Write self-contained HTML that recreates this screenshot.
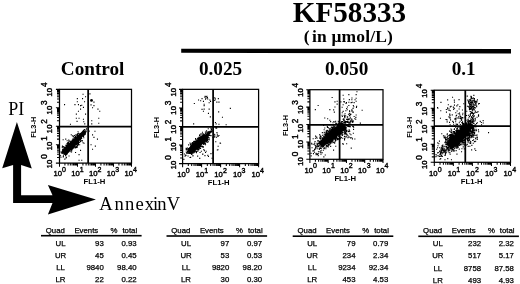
<!DOCTYPE html>
<html><head><meta charset="utf-8"><title>KF58333</title>
<style>html,body{margin:0;padding:0;background:#fff}svg{display:block}</style>
</head><body>
<svg width="520" height="284" viewBox="0 0 520 284"><text transform="translate(349.50 21.80) scale(0.985 1.030)" font-family='"Liberation Serif", serif' font-size="29.6" font-weight="bold" text-anchor="middle" fill="#000" >KF58333</text>
<text transform="translate(303.70 41.50) scale(1.000 1.000)" font-family='"Liberation Serif", serif' font-size="17.5" font-weight="bold" text-anchor="start" fill="#000" letter-spacing="0.15">(<tspan dx="2.4">in μmol/L)</tspan></text>
<path d="M181.2 48.8L511 49.1V53.4L181.2 52.8Z" fill="#000"/>
<text transform="translate(92.60 75.30) scale(1.000 1.000)" font-family='"Liberation Serif", serif' font-size="19.2" font-weight="bold" text-anchor="middle" fill="#000" >Control</text>
<text transform="translate(220.50 75.30) scale(1.000 1.000)" font-family='"Liberation Serif", serif' font-size="19.2" font-weight="bold" text-anchor="middle" fill="#000" >0.025</text>
<text transform="translate(346.70 75.30) scale(1.000 1.000)" font-family='"Liberation Serif", serif' font-size="19.2" font-weight="bold" text-anchor="middle" fill="#000" >0.050</text>
<text transform="translate(463.70 75.30) scale(1.000 1.000)" font-family='"Liberation Serif", serif' font-size="19.2" font-weight="bold" text-anchor="middle" fill="#000" >0.1</text>
<text transform="translate(8.30 114.60) scale(1.000 1.000)" font-family='"Liberation Serif", serif' font-size="18" font-weight="normal" text-anchor="start" fill="#000" >PI</text>
<text x="99.3 114.6 125.1 135.5 144.8 153.0 157.3 166.8" y="209.8" font-family='"Liberation Serif", serif' font-size="18.6" fill="#000">AnnexinV</text>
<path d="M16.9 122 L31.8 168.4 L21.1 165 L21.1 195.3 L52.5 195.3 L47.9 185 L95.9 199.6 L47.9 214.6 L52.5 203 L13.1 203 L13.1 165 L2.2 168.2 Z" fill="#000"/>
<rect x="59.5" y="89.35" width="72.00" height="73.75" fill="none" stroke="#000" stroke-width="1.25"/>
<path d="M88.15 89.35V163.1M59.5 126.7H131.5" stroke="#000" stroke-width="1.75" fill="none"/>
<path d="M59.50 163.1v3.6M59.5 163.10h-3.6M64.92 163.1v2.5M59.5 157.55h-2.5M68.09 163.1v2.5M59.5 154.30h-2.5M70.34 163.1v2.5M59.5 152.00h-2.5M72.08 163.1v2.5M59.5 150.21h-2.5M73.51 163.1v2.5M59.5 148.75h-2.5M74.71 163.1v2.5M59.5 147.52h-2.5M75.76 163.1v2.5M59.5 146.45h-2.5M76.68 163.1v2.5M59.5 145.51h-2.5M77.50 163.1v3.6M59.5 144.66h-3.6M82.92 163.1v2.5M59.5 139.11h-2.5M86.09 163.1v2.5M59.5 135.87h-2.5M88.34 163.1v2.5M59.5 133.56h-2.5M90.08 163.1v2.5M59.5 131.78h-2.5M91.51 163.1v2.5M59.5 130.32h-2.5M92.71 163.1v2.5M59.5 129.08h-2.5M93.76 163.1v2.5M59.5 128.01h-2.5M94.68 163.1v2.5M59.5 127.07h-2.5M95.50 163.1v3.6M59.5 126.22h-3.6M100.92 163.1v2.5M59.5 120.67h-2.5M104.09 163.1v2.5M59.5 117.43h-2.5M106.34 163.1v2.5M59.5 115.12h-2.5M108.08 163.1v2.5M59.5 113.34h-2.5M109.51 163.1v2.5M59.5 111.88h-2.5M110.71 163.1v2.5M59.5 110.64h-2.5M111.76 163.1v2.5M59.5 109.57h-2.5M112.68 163.1v2.5M59.5 108.63h-2.5M113.50 163.1v3.6M59.5 107.79h-3.6M118.92 163.1v2.5M59.5 102.24h-2.5M122.09 163.1v2.5M59.5 98.99h-2.5M124.34 163.1v2.5M59.5 96.69h-2.5M126.08 163.1v2.5M59.5 94.90h-2.5M127.51 163.1v2.5M59.5 93.44h-2.5M128.71 163.1v2.5M59.5 92.21h-2.5M129.76 163.1v2.5M59.5 91.14h-2.5M130.68 163.1v2.5M59.5 90.19h-2.5M131.5 163.1v3.6M59.5 89.35h-3.6" stroke="#000" stroke-width="1.05" fill="none"/>
<text transform="translate(53.40 175.90) scale(0.960 1.000)" font-family='"Liberation Sans", sans-serif' font-size="8.0" font-weight="normal" text-anchor="start" fill="#000" stroke="#000" stroke-width="0.42">10</text>
<text transform="translate(62.00 171.50) scale(0.950 1.000)" font-family='"Liberation Sans", sans-serif' font-size="7.4" font-weight="normal" text-anchor="start" fill="#000" stroke="#000" stroke-width="0.42">0</text>
<text transform="translate(52.00 168.21) rotate(-90)" font-family='"Liberation Sans", sans-serif' font-size="7.7" fill="#000" stroke="#000" stroke-width="0.42">10</text>
<text transform="translate(47.00 158.81) rotate(-90)" font-family='"Liberation Sans", sans-serif' font-size="8.2" fill="#000" stroke="#000" stroke-width="0.42">0</text>
<text transform="translate(71.15 175.90) scale(0.960 1.000)" font-family='"Liberation Sans", sans-serif' font-size="8.0" font-weight="normal" text-anchor="start" fill="#000" stroke="#000" stroke-width="0.42">10</text>
<text transform="translate(79.75 171.50) scale(0.950 1.000)" font-family='"Liberation Sans", sans-serif' font-size="7.4" font-weight="normal" text-anchor="start" fill="#000" stroke="#000" stroke-width="0.42">1</text>
<text transform="translate(52.00 150.27) rotate(-90)" font-family='"Liberation Sans", sans-serif' font-size="7.7" fill="#000" stroke="#000" stroke-width="0.42">10</text>
<text transform="translate(47.00 140.87) rotate(-90)" font-family='"Liberation Sans", sans-serif' font-size="8.2" fill="#000" stroke="#000" stroke-width="0.42">1</text>
<text transform="translate(88.90 175.90) scale(0.960 1.000)" font-family='"Liberation Sans", sans-serif' font-size="8.0" font-weight="normal" text-anchor="start" fill="#000" stroke="#000" stroke-width="0.42">10</text>
<text transform="translate(97.50 171.50) scale(0.950 1.000)" font-family='"Liberation Sans", sans-serif' font-size="7.4" font-weight="normal" text-anchor="start" fill="#000" stroke="#000" stroke-width="0.42">2</text>
<text transform="translate(52.00 133.13) rotate(-90)" font-family='"Liberation Sans", sans-serif' font-size="7.7" fill="#000" stroke="#000" stroke-width="0.42">10</text>
<text transform="translate(47.00 123.73) rotate(-90)" font-family='"Liberation Sans", sans-serif' font-size="8.2" fill="#000" stroke="#000" stroke-width="0.42">2</text>
<text transform="translate(106.64 175.90) scale(0.960 1.000)" font-family='"Liberation Sans", sans-serif' font-size="8.0" font-weight="normal" text-anchor="start" fill="#000" stroke="#000" stroke-width="0.42">10</text>
<text transform="translate(115.24 171.50) scale(0.950 1.000)" font-family='"Liberation Sans", sans-serif' font-size="7.4" font-weight="normal" text-anchor="start" fill="#000" stroke="#000" stroke-width="0.42">3</text>
<text transform="translate(52.00 114.39) rotate(-90)" font-family='"Liberation Sans", sans-serif' font-size="7.7" fill="#000" stroke="#000" stroke-width="0.42">10</text>
<text transform="translate(47.00 104.99) rotate(-90)" font-family='"Liberation Sans", sans-serif' font-size="8.2" fill="#000" stroke="#000" stroke-width="0.42">3</text>
<text transform="translate(124.39 175.90) scale(0.960 1.000)" font-family='"Liberation Sans", sans-serif' font-size="8.0" font-weight="normal" text-anchor="start" fill="#000" stroke="#000" stroke-width="0.42">10</text>
<text transform="translate(132.99 171.50) scale(0.950 1.000)" font-family='"Liberation Sans", sans-serif' font-size="7.4" font-weight="normal" text-anchor="start" fill="#000" stroke="#000" stroke-width="0.42">4</text>
<text transform="translate(52.00 96.45) rotate(-90)" font-family='"Liberation Sans", sans-serif' font-size="7.7" fill="#000" stroke="#000" stroke-width="0.42">10</text>
<text transform="translate(47.00 87.05) rotate(-90)" font-family='"Liberation Sans", sans-serif' font-size="8.2" fill="#000" stroke="#000" stroke-width="0.42">4</text>
<text transform="translate(83.50 184.00) scale(1.040 1.000)" font-family='"Liberation Sans", sans-serif' font-size="7.4" font-weight="bold" text-anchor="start" fill="#000" >FL1-H</text>
<text transform="translate(36.00 127.22) rotate(-90)" font-family='"Liberation Sans", sans-serif' font-size="7.4" font-weight="bold" text-anchor="middle" fill="#000">FL3-H</text>
<rect x="182.6" y="89.35" width="76.00" height="74.25" fill="none" stroke="#000" stroke-width="1.25"/>
<path d="M213.1 89.35V163.6M182.6 126.8H258.6" stroke="#000" stroke-width="1.75" fill="none"/>
<path d="M182.60 163.6v3.6M182.6 163.60h-3.6M188.32 163.6v2.5M182.6 158.01h-2.5M191.67 163.6v2.5M182.6 154.74h-2.5M194.04 163.6v2.5M182.6 152.42h-2.5M195.88 163.6v2.5M182.6 150.63h-2.5M197.38 163.6v2.5M182.6 149.16h-2.5M198.66 163.6v2.5M182.6 147.91h-2.5M199.76 163.6v2.5M182.6 146.84h-2.5M200.73 163.6v2.5M182.6 145.89h-2.5M201.60 163.6v3.6M182.6 145.04h-3.6M207.32 163.6v2.5M182.6 139.45h-2.5M210.67 163.6v2.5M182.6 136.18h-2.5M213.04 163.6v2.5M182.6 133.86h-2.5M214.88 163.6v2.5M182.6 132.06h-2.5M216.38 163.6v2.5M182.6 130.59h-2.5M217.66 163.6v2.5M182.6 129.35h-2.5M218.76 163.6v2.5M182.6 128.27h-2.5M219.73 163.6v2.5M182.6 127.32h-2.5M220.60 163.6v3.6M182.6 126.47h-3.6M226.32 163.6v2.5M182.6 120.89h-2.5M229.67 163.6v2.5M182.6 117.62h-2.5M232.04 163.6v2.5M182.6 115.30h-2.5M233.88 163.6v2.5M182.6 113.50h-2.5M235.38 163.6v2.5M182.6 112.03h-2.5M236.66 163.6v2.5M182.6 110.79h-2.5M237.76 163.6v2.5M182.6 109.71h-2.5M238.73 163.6v2.5M182.6 108.76h-2.5M239.60 163.6v3.6M182.6 107.91h-3.6M245.32 163.6v2.5M182.6 102.32h-2.5M248.67 163.6v2.5M182.6 99.06h-2.5M251.04 163.6v2.5M182.6 96.74h-2.5M252.88 163.6v2.5M182.6 94.94h-2.5M254.38 163.6v2.5M182.6 93.47h-2.5M255.66 163.6v2.5M182.6 92.23h-2.5M256.76 163.6v2.5M182.6 91.15h-2.5M257.73 163.6v2.5M182.6 90.20h-2.5M258.6 163.6v3.6M182.6 89.35h-3.6" stroke="#000" stroke-width="1.05" fill="none"/>
<text transform="translate(177.20 177.40) scale(0.960 1.000)" font-family='"Liberation Sans", sans-serif' font-size="8.0" font-weight="normal" text-anchor="start" fill="#000" stroke="#000" stroke-width="0.42">10</text>
<text transform="translate(185.80 173.00) scale(0.950 1.000)" font-family='"Liberation Sans", sans-serif' font-size="7.4" font-weight="normal" text-anchor="start" fill="#000" stroke="#000" stroke-width="0.42">0</text>
<text transform="translate(175.50 169.21) rotate(-90)" font-family='"Liberation Sans", sans-serif' font-size="7.7" fill="#000" stroke="#000" stroke-width="0.42">10</text>
<text transform="translate(170.50 159.81) rotate(-90)" font-family='"Liberation Sans", sans-serif' font-size="8.2" fill="#000" stroke="#000" stroke-width="0.42">0</text>
<text transform="translate(195.76 177.40) scale(0.960 1.000)" font-family='"Liberation Sans", sans-serif' font-size="8.0" font-weight="normal" text-anchor="start" fill="#000" stroke="#000" stroke-width="0.42">10</text>
<text transform="translate(204.36 173.00) scale(0.950 1.000)" font-family='"Liberation Sans", sans-serif' font-size="7.4" font-weight="normal" text-anchor="start" fill="#000" stroke="#000" stroke-width="0.42">1</text>
<text transform="translate(175.50 151.02) rotate(-90)" font-family='"Liberation Sans", sans-serif' font-size="7.7" fill="#000" stroke="#000" stroke-width="0.42">10</text>
<text transform="translate(170.50 141.62) rotate(-90)" font-family='"Liberation Sans", sans-serif' font-size="8.2" fill="#000" stroke="#000" stroke-width="0.42">1</text>
<text transform="translate(214.33 177.40) scale(0.960 1.000)" font-family='"Liberation Sans", sans-serif' font-size="8.0" font-weight="normal" text-anchor="start" fill="#000" stroke="#000" stroke-width="0.42">10</text>
<text transform="translate(222.93 173.00) scale(0.950 1.000)" font-family='"Liberation Sans", sans-serif' font-size="7.4" font-weight="normal" text-anchor="start" fill="#000" stroke="#000" stroke-width="0.42">2</text>
<text transform="translate(175.50 133.63) rotate(-90)" font-family='"Liberation Sans", sans-serif' font-size="7.7" fill="#000" stroke="#000" stroke-width="0.42">10</text>
<text transform="translate(170.50 124.23) rotate(-90)" font-family='"Liberation Sans", sans-serif' font-size="8.2" fill="#000" stroke="#000" stroke-width="0.42">2</text>
<text transform="translate(232.89 177.40) scale(0.960 1.000)" font-family='"Liberation Sans", sans-serif' font-size="8.0" font-weight="normal" text-anchor="start" fill="#000" stroke="#000" stroke-width="0.42">10</text>
<text transform="translate(241.49 173.00) scale(0.950 1.000)" font-family='"Liberation Sans", sans-serif' font-size="7.4" font-weight="normal" text-anchor="start" fill="#000" stroke="#000" stroke-width="0.42">3</text>
<text transform="translate(175.50 114.64) rotate(-90)" font-family='"Liberation Sans", sans-serif' font-size="7.7" fill="#000" stroke="#000" stroke-width="0.42">10</text>
<text transform="translate(170.50 105.24) rotate(-90)" font-family='"Liberation Sans", sans-serif' font-size="8.2" fill="#000" stroke="#000" stroke-width="0.42">3</text>
<text transform="translate(251.45 177.40) scale(0.960 1.000)" font-family='"Liberation Sans", sans-serif' font-size="8.0" font-weight="normal" text-anchor="start" fill="#000" stroke="#000" stroke-width="0.42">10</text>
<text transform="translate(260.05 173.00) scale(0.950 1.000)" font-family='"Liberation Sans", sans-serif' font-size="7.4" font-weight="normal" text-anchor="start" fill="#000" stroke="#000" stroke-width="0.42">4</text>
<text transform="translate(175.50 96.45) rotate(-90)" font-family='"Liberation Sans", sans-serif' font-size="7.7" fill="#000" stroke="#000" stroke-width="0.42">10</text>
<text transform="translate(170.50 87.05) rotate(-90)" font-family='"Liberation Sans", sans-serif' font-size="8.2" fill="#000" stroke="#000" stroke-width="0.42">4</text>
<text transform="translate(207.80 185.40) scale(1.040 1.000)" font-family='"Liberation Sans", sans-serif' font-size="7.4" font-weight="bold" text-anchor="start" fill="#000" >FL1-H</text>
<text transform="translate(159.10 127.47) rotate(-90)" font-family='"Liberation Sans", sans-serif' font-size="7.4" font-weight="bold" text-anchor="middle" fill="#000">FL3-H</text>
<rect x="309.9" y="89.7" width="73.10" height="69.60" fill="none" stroke="#000" stroke-width="1.25"/>
<path d="M339.6 89.7V159.3M309.9 124.75H383.0" stroke="#000" stroke-width="1.75" fill="none"/>
<path d="M309.90 159.3v3.6M309.9 159.30h-3.6M315.40 159.3v2.5M309.9 154.06h-2.5M318.62 159.3v2.5M309.9 151.00h-2.5M320.90 159.3v2.5M309.9 148.82h-2.5M322.67 159.3v2.5M309.9 147.14h-2.5M324.12 159.3v2.5M309.9 145.76h-2.5M325.34 159.3v2.5M309.9 144.60h-2.5M326.40 159.3v2.5M309.9 143.59h-2.5M327.34 159.3v2.5M309.9 142.70h-2.5M328.17 159.3v3.6M309.9 141.90h-3.6M333.68 159.3v2.5M309.9 136.66h-2.5M336.89 159.3v2.5M309.9 133.60h-2.5M339.18 159.3v2.5M309.9 131.42h-2.5M340.95 159.3v2.5M309.9 129.74h-2.5M342.40 159.3v2.5M309.9 128.36h-2.5M343.62 159.3v2.5M309.9 127.20h-2.5M344.68 159.3v2.5M309.9 126.19h-2.5M345.61 159.3v2.5M309.9 125.30h-2.5M346.45 159.3v3.6M309.9 124.50h-3.6M351.95 159.3v2.5M309.9 119.26h-2.5M355.17 159.3v2.5M309.9 116.20h-2.5M357.45 159.3v2.5M309.9 114.02h-2.5M359.22 159.3v2.5M309.9 112.34h-2.5M360.67 159.3v2.5M309.9 110.96h-2.5M361.89 159.3v2.5M309.9 109.80h-2.5M362.95 159.3v2.5M309.9 108.79h-2.5M363.89 159.3v2.5M309.9 107.90h-2.5M364.73 159.3v3.6M309.9 107.10h-3.6M370.23 159.3v2.5M309.9 101.86h-2.5M373.44 159.3v2.5M309.9 98.80h-2.5M375.73 159.3v2.5M309.9 96.62h-2.5M377.50 159.3v2.5M309.9 94.94h-2.5M378.95 159.3v2.5M309.9 93.56h-2.5M380.17 159.3v2.5M309.9 92.40h-2.5M381.23 159.3v2.5M309.9 91.39h-2.5M382.16 159.3v2.5M309.9 90.50h-2.5M383.0 159.3v3.6M309.9 89.7h-3.6" stroke="#000" stroke-width="1.05" fill="none"/>
<text transform="translate(304.50 172.50) scale(0.960 1.000)" font-family='"Liberation Sans", sans-serif' font-size="8.0" font-weight="normal" text-anchor="start" fill="#000" stroke="#000" stroke-width="0.42">10</text>
<text transform="translate(313.10 168.10) scale(0.950 1.000)" font-family='"Liberation Sans", sans-serif' font-size="7.4" font-weight="normal" text-anchor="start" fill="#000" stroke="#000" stroke-width="0.42">0</text>
<text transform="translate(303.00 165.70) rotate(-90)" font-family='"Liberation Sans", sans-serif' font-size="7.7" fill="#000" stroke="#000" stroke-width="0.42">10</text>
<text transform="translate(298.00 156.30) rotate(-90)" font-family='"Liberation Sans", sans-serif' font-size="8.2" fill="#000" stroke="#000" stroke-width="0.42">0</text>
<text transform="translate(322.35 172.50) scale(0.960 1.000)" font-family='"Liberation Sans", sans-serif' font-size="8.0" font-weight="normal" text-anchor="start" fill="#000" stroke="#000" stroke-width="0.42">10</text>
<text transform="translate(330.95 168.10) scale(0.950 1.000)" font-family='"Liberation Sans", sans-serif' font-size="7.4" font-weight="normal" text-anchor="start" fill="#000" stroke="#000" stroke-width="0.42">1</text>
<text transform="translate(303.00 148.48) rotate(-90)" font-family='"Liberation Sans", sans-serif' font-size="7.7" fill="#000" stroke="#000" stroke-width="0.42">10</text>
<text transform="translate(298.00 139.08) rotate(-90)" font-family='"Liberation Sans", sans-serif' font-size="8.2" fill="#000" stroke="#000" stroke-width="0.42">1</text>
<text transform="translate(340.21 172.50) scale(0.960 1.000)" font-family='"Liberation Sans", sans-serif' font-size="8.0" font-weight="normal" text-anchor="start" fill="#000" stroke="#000" stroke-width="0.42">10</text>
<text transform="translate(348.81 168.10) scale(0.950 1.000)" font-family='"Liberation Sans", sans-serif' font-size="7.4" font-weight="normal" text-anchor="start" fill="#000" stroke="#000" stroke-width="0.42">2</text>
<text transform="translate(303.00 132.55) rotate(-90)" font-family='"Liberation Sans", sans-serif' font-size="7.7" fill="#000" stroke="#000" stroke-width="0.42">10</text>
<text transform="translate(298.00 123.15) rotate(-90)" font-family='"Liberation Sans", sans-serif' font-size="8.2" fill="#000" stroke="#000" stroke-width="0.42">2</text>
<text transform="translate(358.06 172.50) scale(0.960 1.000)" font-family='"Liberation Sans", sans-serif' font-size="8.0" font-weight="normal" text-anchor="start" fill="#000" stroke="#000" stroke-width="0.42">10</text>
<text transform="translate(366.66 168.10) scale(0.950 1.000)" font-family='"Liberation Sans", sans-serif' font-size="7.4" font-weight="normal" text-anchor="start" fill="#000" stroke="#000" stroke-width="0.42">3</text>
<text transform="translate(303.00 114.03) rotate(-90)" font-family='"Liberation Sans", sans-serif' font-size="7.7" fill="#000" stroke="#000" stroke-width="0.42">10</text>
<text transform="translate(298.00 104.63) rotate(-90)" font-family='"Liberation Sans", sans-serif' font-size="8.2" fill="#000" stroke="#000" stroke-width="0.42">3</text>
<text transform="translate(375.92 172.50) scale(0.960 1.000)" font-family='"Liberation Sans", sans-serif' font-size="8.0" font-weight="normal" text-anchor="start" fill="#000" stroke="#000" stroke-width="0.42">10</text>
<text transform="translate(384.52 168.10) scale(0.950 1.000)" font-family='"Liberation Sans", sans-serif' font-size="7.4" font-weight="normal" text-anchor="start" fill="#000" stroke="#000" stroke-width="0.42">4</text>
<text transform="translate(303.00 96.80) rotate(-90)" font-family='"Liberation Sans", sans-serif' font-size="7.7" fill="#000" stroke="#000" stroke-width="0.42">10</text>
<text transform="translate(298.00 87.40) rotate(-90)" font-family='"Liberation Sans", sans-serif' font-size="8.2" fill="#000" stroke="#000" stroke-width="0.42">4</text>
<text transform="translate(334.40 181.10) scale(1.040 1.000)" font-family='"Liberation Sans", sans-serif' font-size="7.4" font-weight="bold" text-anchor="start" fill="#000" >FL1-H</text>
<text transform="translate(288.40 125.50) rotate(-90)" font-family='"Liberation Sans", sans-serif' font-size="7.4" font-weight="bold" text-anchor="middle" fill="#000">FL3-H</text>
<rect x="434.3" y="90.2" width="76.20" height="72.10" fill="none" stroke="#000" stroke-width="1.25"/>
<path d="M465.3 90.2V162.3M434.3 126.0H510.5" stroke="#000" stroke-width="1.75" fill="none"/>
<path d="M434.30 162.3v3.6M434.3 162.30h-3.6M440.03 162.3v2.5M434.3 156.87h-2.5M443.39 162.3v2.5M434.3 153.70h-2.5M445.77 162.3v2.5M434.3 151.45h-2.5M447.62 162.3v2.5M434.3 149.70h-2.5M449.12 162.3v2.5M434.3 148.27h-2.5M450.40 162.3v2.5M434.3 147.07h-2.5M451.50 162.3v2.5M434.3 146.02h-2.5M452.48 162.3v2.5M434.3 145.10h-2.5M453.35 162.3v3.6M434.3 144.28h-3.6M459.08 162.3v2.5M434.3 138.85h-2.5M462.44 162.3v2.5M434.3 135.67h-2.5M464.82 162.3v2.5M434.3 133.42h-2.5M466.67 162.3v2.5M434.3 131.68h-2.5M468.17 162.3v2.5M434.3 130.25h-2.5M469.45 162.3v2.5M434.3 129.04h-2.5M470.55 162.3v2.5M434.3 128.00h-2.5M471.53 162.3v2.5M434.3 127.07h-2.5M472.40 162.3v3.6M434.3 126.25h-3.6M478.13 162.3v2.5M434.3 120.82h-2.5M481.49 162.3v2.5M434.3 117.65h-2.5M483.87 162.3v2.5M434.3 115.40h-2.5M485.72 162.3v2.5M434.3 113.65h-2.5M487.22 162.3v2.5M434.3 112.22h-2.5M488.50 162.3v2.5M434.3 111.02h-2.5M489.60 162.3v2.5M434.3 109.97h-2.5M490.58 162.3v2.5M434.3 109.05h-2.5M491.45 162.3v3.6M434.3 108.23h-3.6M497.18 162.3v2.5M434.3 102.80h-2.5M500.54 162.3v2.5M434.3 99.62h-2.5M502.92 162.3v2.5M434.3 97.37h-2.5M504.77 162.3v2.5M434.3 95.63h-2.5M506.27 162.3v2.5M434.3 94.20h-2.5M507.55 162.3v2.5M434.3 92.99h-2.5M508.65 162.3v2.5M434.3 91.95h-2.5M509.63 162.3v2.5M434.3 91.02h-2.5M510.5 162.3v3.6M434.3 90.2h-3.6" stroke="#000" stroke-width="1.05" fill="none"/>
<text transform="translate(429.10 175.90) scale(0.960 1.000)" font-family='"Liberation Sans", sans-serif' font-size="8.0" font-weight="normal" text-anchor="start" fill="#000" stroke="#000" stroke-width="0.42">10</text>
<text transform="translate(437.70 171.50) scale(0.950 1.000)" font-family='"Liberation Sans", sans-serif' font-size="7.4" font-weight="normal" text-anchor="start" fill="#000" stroke="#000" stroke-width="0.42">0</text>
<text transform="translate(427.20 169.08) rotate(-90)" font-family='"Liberation Sans", sans-serif' font-size="7.7" fill="#000" stroke="#000" stroke-width="0.42">10</text>
<text transform="translate(422.20 159.68) rotate(-90)" font-family='"Liberation Sans", sans-serif' font-size="8.2" fill="#000" stroke="#000" stroke-width="0.42">0</text>
<text transform="translate(447.71 175.90) scale(0.960 1.000)" font-family='"Liberation Sans", sans-serif' font-size="8.0" font-weight="normal" text-anchor="start" fill="#000" stroke="#000" stroke-width="0.42">10</text>
<text transform="translate(456.31 171.50) scale(0.950 1.000)" font-family='"Liberation Sans", sans-serif' font-size="7.4" font-weight="normal" text-anchor="start" fill="#000" stroke="#000" stroke-width="0.42">1</text>
<text transform="translate(427.20 151.23) rotate(-90)" font-family='"Liberation Sans", sans-serif' font-size="7.7" fill="#000" stroke="#000" stroke-width="0.42">10</text>
<text transform="translate(422.20 141.83) rotate(-90)" font-family='"Liberation Sans", sans-serif' font-size="8.2" fill="#000" stroke="#000" stroke-width="0.42">1</text>
<text transform="translate(466.32 175.90) scale(0.960 1.000)" font-family='"Liberation Sans", sans-serif' font-size="8.0" font-weight="normal" text-anchor="start" fill="#000" stroke="#000" stroke-width="0.42">10</text>
<text transform="translate(474.92 171.50) scale(0.950 1.000)" font-family='"Liberation Sans", sans-serif' font-size="7.4" font-weight="normal" text-anchor="start" fill="#000" stroke="#000" stroke-width="0.42">2</text>
<text transform="translate(427.20 133.39) rotate(-90)" font-family='"Liberation Sans", sans-serif' font-size="7.7" fill="#000" stroke="#000" stroke-width="0.42">10</text>
<text transform="translate(422.20 123.99) rotate(-90)" font-family='"Liberation Sans", sans-serif' font-size="8.2" fill="#000" stroke="#000" stroke-width="0.42">2</text>
<text transform="translate(484.94 175.90) scale(0.960 1.000)" font-family='"Liberation Sans", sans-serif' font-size="8.0" font-weight="normal" text-anchor="start" fill="#000" stroke="#000" stroke-width="0.42">10</text>
<text transform="translate(493.54 171.50) scale(0.950 1.000)" font-family='"Liberation Sans", sans-serif' font-size="7.4" font-weight="normal" text-anchor="start" fill="#000" stroke="#000" stroke-width="0.42">3</text>
<text transform="translate(427.20 115.54) rotate(-90)" font-family='"Liberation Sans", sans-serif' font-size="7.7" fill="#000" stroke="#000" stroke-width="0.42">10</text>
<text transform="translate(422.20 106.14) rotate(-90)" font-family='"Liberation Sans", sans-serif' font-size="8.2" fill="#000" stroke="#000" stroke-width="0.42">3</text>
<text transform="translate(503.55 175.90) scale(0.960 1.000)" font-family='"Liberation Sans", sans-serif' font-size="8.0" font-weight="normal" text-anchor="start" fill="#000" stroke="#000" stroke-width="0.42">10</text>
<text transform="translate(512.15 171.50) scale(0.950 1.000)" font-family='"Liberation Sans", sans-serif' font-size="7.4" font-weight="normal" text-anchor="start" fill="#000" stroke="#000" stroke-width="0.42">4</text>
<text transform="translate(427.20 97.70) rotate(-90)" font-family='"Liberation Sans", sans-serif' font-size="7.7" fill="#000" stroke="#000" stroke-width="0.42">10</text>
<text transform="translate(422.20 88.30) rotate(-90)" font-family='"Liberation Sans", sans-serif' font-size="8.2" fill="#000" stroke="#000" stroke-width="0.42">4</text>
<text transform="translate(460.80 184.30) scale(1.040 1.000)" font-family='"Liberation Sans", sans-serif' font-size="7.4" font-weight="bold" text-anchor="start" fill="#000" >FL1-H</text>
<text transform="translate(412.00 127.25) rotate(-90)" font-family='"Liberation Sans", sans-serif' font-size="7.4" font-weight="bold" text-anchor="middle" fill="#000">FL3-H</text>
<path d="M65.7 154.3 L85.1 132.5 L83.7 131.1 L62.7 151.3Z" fill="#000" stroke="#000" stroke-width="2.0" stroke-linejoin="round"/>
<path d="M79.2 136.8h1.1M71.7 147.4h1.1M68.6 146.2h1.1M60.4 157.2h1.1M68.2 141.7h1.1M71.1 147.2h1.1M71.5 149.4h1.1M72.8 143.2h1.1M74.8 144.2h1.1M64.4 147.2h1.1M67.1 148.3h1.1M67.1 144.7h1.1M74.9 142.0h1.1M74.7 142.9h1.1M63.8 148.7h1.1M65.3 148.6h1.1M73.8 140.5h1.1M81.8 140.9h1.1M71.2 144.7h1.1M68.6 148.0h1.1M76.8 140.2h1.1M70.5 146.5h1.1M74.3 141.1h1.1M76.3 135.8h1.1M73.2 140.9h1.1M74.1 146.6h1.1M75.0 141.7h1.1M68.1 147.1h1.1M68.7 143.6h1.1M68.9 147.2h1.1M70.6 145.7h1.1M68.4 146.0h1.1M71.9 146.8h1.1M68.9 145.6h1.1M71.6 144.1h1.1M72.9 145.6h1.1M73.1 143.7h1.1M79.2 139.9h1.1M64.3 151.4h1.1M76.5 138.2h1.1M71.1 146.4h1.1M66.4 150.6h1.1M72.4 147.1h1.1M72.4 144.8h1.1M76.1 139.8h1.1M67.4 150.1h1.1M73.3 144.6h1.1M70.4 142.6h1.1M63.9 152.1h1.1M65.8 149.6h1.1M75.8 143.6h1.1M73.8 140.9h1.1M77.7 141.2h1.1M72.0 140.5h1.1M73.1 142.8h1.1M73.5 145.6h1.1M76.4 138.9h1.1M69.4 150.1h1.1M67.9 142.5h1.1M73.2 143.0h1.1M64.8 152.1h1.1M77.0 138.6h1.1M65.8 146.2h1.1M72.1 146.0h1.1M77.5 131.7h1.1M69.2 149.8h1.1M69.6 147.5h1.1M79.7 139.0h1.1M66.4 149.2h1.1M68.0 145.1h1.1M73.0 141.6h1.1M72.8 142.0h1.1M74.9 142.8h1.1M72.6 142.6h1.1M77.9 139.2h1.1M76.6 140.8h1.1M76.1 144.0h1.1M65.6 145.0h1.1M67.8 147.4h1.1M64.1 154.3h1.1M75.5 142.6h1.1M62.7 152.2h1.1M74.9 140.4h1.1M79.4 136.2h1.1M67.0 149.7h1.1M67.7 147.0h1.1M68.5 146.0h1.1M73.5 139.4h1.1M67.1 148.1h1.1M72.9 147.2h1.1M67.8 145.8h1.1M71.8 147.2h1.1M79.9 141.6h1.1M67.6 149.4h1.1M75.2 147.7h1.1M72.5 143.3h1.1M77.6 143.2h1.1M65.9 150.4h1.1M74.6 138.0h1.1M73.9 143.3h1.1M78.0 143.4h1.1M71.0 143.6h1.1M65.0 152.8h1.1M67.2 146.3h1.1M73.8 139.8h1.1M72.3 145.2h1.1M71.0 144.7h1.1M80.2 137.4h1.1M83.0 136.5h1.1M69.7 143.3h1.1M79.0 135.0h1.1M62.9 153.9h1.1M65.9 157.3h1.1M74.8 140.4h1.1M69.7 145.3h1.1M74.7 142.8h1.1M76.8 145.4h1.1M70.3 144.4h1.1M74.1 141.3h1.1M72.3 144.2h1.1M65.9 152.8h1.1M75.6 146.8h1.1M70.6 142.2h1.1M77.2 134.2h1.1M66.8 150.1h1.1M72.4 145.5h1.1M66.5 143.6h1.1M70.1 144.6h1.1M80.2 138.6h1.1M72.5 142.4h1.1M70.2 147.6h1.1M72.5 144.4h1.1M75.9 142.3h1.1M67.8 149.9h1.1M70.8 146.4h1.1M80.1 139.6h1.1M74.5 140.2h1.1M71.6 145.2h1.1M71.1 148.6h1.1M70.1 144.8h1.1M64.3 151.4h1.1M74.6 139.5h1.1M71.7 142.0h1.1M75.1 147.0h1.1M66.6 151.4h1.1M71.2 150.7h1.1M74.9 143.5h1.1M72.8 143.8h1.1M69.0 146.7h1.1M74.2 142.9h1.1M75.6 140.5h1.1M70.0 149.2h1.1M68.0 146.0h1.1M68.0 149.0h1.1M67.2 150.7h1.1M74.8 140.9h1.1M73.5 142.2h1.1M73.9 144.1h1.1M67.3 150.9h1.1M66.9 149.4h1.1M71.3 145.1h1.1M69.0 145.9h1.1M72.9 145.1h1.1M68.4 147.8h1.1M72.2 139.7h1.1M79.0 136.3h1.1M79.2 138.7h1.1M79.0 137.9h1.1M70.6 143.3h1.1M76.7 141.7h1.1M70.8 147.4h1.1M76.5 141.5h1.1M72.1 148.6h1.1M69.0 146.6h1.1M69.6 148.6h1.1M74.3 141.3h1.1M74.2 144.9h1.1M74.0 145.6h1.1M67.3 150.6h1.1M73.2 145.2h1.1M64.1 150.2h1.1M78.9 139.0h1.1M69.3 143.7h1.1M75.5 146.9h1.1M72.7 146.9h1.1M62.4 149.8h1.1M61.7 147.3h1.1M73.3 146.7h1.1M76.8 136.8h1.1M67.4 150.6h1.1M66.5 146.1h1.1M71.4 145.1h1.1M63.2 151.5h1.1M64.9 153.3h1.1M69.2 146.1h1.1M73.4 147.0h1.1M68.7 145.5h1.1M80.0 139.6h1.1M70.7 145.4h1.1M73.8 143.8h1.1M76.2 135.3h1.1M76.4 134.6h1.1M66.0 153.4h1.1M68.1 144.7h1.1M76.1 139.0h1.1M65.0 150.5h1.1M66.1 147.7h1.1M66.1 150.9h1.1M63.5 148.9h1.1M64.8 148.2h1.1M73.6 145.2h1.1M75.9 137.8h1.1M79.2 138.8h1.1M72.5 145.6h1.1M65.0 155.7h1.1M71.9 145.6h1.1M67.3 143.7h1.1M72.1 142.2h1.1M70.3 144.7h1.1M65.4 154.6h1.1M73.8 143.3h1.1M61.7 153.4h1.1M69.1 148.4h1.1M72.3 142.8h1.1M73.8 143.9h1.1M78.5 137.8h1.1M62.7 156.9h1.1M73.4 143.6h1.1M75.9 143.0h1.1M70.0 146.2h1.1M75.3 142.8h1.1M66.4 149.5h1.1M75.3 142.6h1.1M74.1 142.6h1.1M67.0 149.0h1.1M67.9 147.1h1.1M70.2 145.2h1.1M69.3 148.3h1.1M72.7 136.8h1.1M74.0 145.6h1.1M73.8 135.5h1.1M76.3 139.1h1.1M71.2 144.0h1.1M71.7 146.6h1.1M67.6 149.3h1.1M67.9 148.3h1.1M68.1 148.4h1.1M74.3 144.4h1.1M71.0 152.0h1.1M72.3 144.9h1.1M69.3 141.0h1.1M68.7 146.4h1.1M71.2 146.1h1.1M82.5 142.8h1.1M77.4 136.3h1.1M67.5 147.7h1.1M71.4 146.4h1.1M70.3 146.8h1.1M68.3 144.1h1.1M79.5 139.1h1.1M72.6 139.8h1.1M76.6 138.6h1.1M81.1 138.5h1.1M67.6 144.9h1.1M70.1 145.1h1.1M74.0 146.8h1.1M75.6 139.7h1.1M69.5 143.7h1.1M73.4 141.0h1.1M77.8 140.6h1.1M74.3 137.2h1.1M72.5 141.8h1.1M65.9 146.2h1.1M63.0 150.1h1.1M78.2 141.4h1.1M73.3 142.5h1.1M66.7 148.3h1.1M69.9 147.6h1.1M68.5 145.7h1.1M62.4 150.6h1.1M74.2 145.2h1.1M69.3 149.5h1.1M68.9 144.9h1.1M75.7 142.3h1.1M73.1 147.2h1.1M74.5 142.9h1.1M74.0 143.5h1.1M69.8 142.8h1.1M71.5 144.3h1.1M76.9 133.7h1.1M72.3 147.0h1.1M78.3 137.1h1.1M69.4 150.7h1.1M73.5 140.3h1.1M73.5 145.1h1.1M66.0 145.8h1.1M79.2 138.2h1.1M66.9 150.4h1.1M67.1 149.0h1.1M69.6 141.8h1.1M73.6 146.3h1.1M73.6 144.4h1.1M72.0 147.4h1.1M66.5 153.1h1.1M74.7 140.2h1.1M68.1 149.3h1.1M76.3 147.4h1.1M72.7 140.9h1.1M77.2 139.9h1.1M69.7 144.9h1.1M72.6 148.5h1.1M70.7 146.0h1.1M61.8 151.6h1.1M67.3 147.3h1.1M65.0 147.3h1.1M63.1 146.7h1.1M68.2 140.1h1.1M69.0 145.1h1.1M76.8 135.9h1.1M78.2 138.2h1.1M62.0 152.1h1.1M72.3 144.5h1.1M69.6 151.7h1.1M72.2 140.5h1.1M70.4 142.3h1.1M76.9 141.9h1.1M76.2 146.6h1.1M73.5 140.0h1.1M67.7 143.7h1.1M60.0 155.7h1.1M65.7 149.5h1.1M68.7 149.6h1.1M67.8 145.4h1.1M66.6 148.9h1.1M78.1 136.9h1.1M68.4 143.2h1.1M74.8 136.6h1.1M70.6 146.9h1.1M79.5 138.0h1.1M65.0 149.0h1.1M76.3 144.2h1.1M67.0 152.0h1.1M74.1 143.3h1.1M79.3 138.4h1.1M64.8 152.6h1.1M68.7 149.7h1.1M73.8 144.8h1.1M70.7 145.6h1.1M62.5 148.0h1.1M76.3 139.2h1.1M70.5 143.3h1.1M75.4 137.2h1.1M73.7 144.1h1.1M63.8 147.4h1.1M70.5 148.0h1.1M76.6 137.5h1.1M63.6 149.2h1.1M68.1 145.6h1.1M77.5 145.3h1.1M78.0 142.2h1.1M74.6 140.5h1.1M66.5 152.9h1.1M83.2 137.8h1.1M69.4 144.2h1.1M71.1 144.2h1.1M72.8 146.0h1.1M71.0 146.3h1.1M66.7 148.5h1.1M72.4 148.5h1.1M78.0 139.4h1.1M66.6 152.0h1.1M64.3 159.1h1.1M74.5 143.0h1.1M76.8 146.9h1.1M75.1 141.8h1.1M78.8 136.6h1.1M68.5 148.2h1.1M73.5 145.1h1.1M74.6 143.3h1.1M77.4 139.6h1.1M73.7 137.9h1.1M66.1 147.0h1.1M65.0 150.6h1.1M71.3 147.0h1.1M66.5 154.0h1.1M72.8 136.2h1.1M69.5 146.3h1.1M69.2 145.6h1.1M67.4 148.6h1.1M78.4 138.1h1.1M71.4 142.2h1.1M67.7 144.7h1.1M75.6 143.3h1.1M72.2 146.1h1.1M73.4 141.4h1.1M77.0 138.5h1.1M69.2 144.9h1.1M71.6 140.4h1.1M74.5 143.4h1.1M75.4 138.6h1.1M72.4 140.4h1.1M70.7 143.7h1.1M71.0 149.9h1.1M73.4 144.0h1.1M67.2 149.8h1.1M74.4 141.8h1.1M73.0 145.6h1.1M74.9 143.2h1.1M67.2 145.2h1.1M67.6 148.0h1.1M66.5 147.9h1.1M76.6 140.0h1.1M70.4 145.6h1.1M67.5 142.9h1.1M65.3 154.4h1.1M71.5 145.3h1.1M79.1 140.1h1.1M70.5 145.9h1.1M72.2 145.2h1.1M65.2 151.2h1.1M66.8 149.8h1.1M73.3 141.2h1.1M68.0 143.2h1.1M72.4 141.8h1.1M77.2 139.1h1.1M74.3 141.7h1.1M64.0 154.2h1.1M66.9 149.0h1.1M63.1 146.6h1.1M68.5 149.8h1.1M61.1 152.9h1.1M60.4 152.0h1.1M67.6 147.5h1.1M66.7 145.4h1.1M74.1 142.8h1.1M68.6 144.8h1.1M80.4 140.9h1.1M63.0 152.5h1.1M64.4 150.1h1.1M71.5 142.5h1.1M67.0 142.8h1.1M65.7 147.9h1.1M73.6 140.0h1.1M75.6 139.2h1.1M73.8 135.5h1.1M69.7 146.5h1.1M73.2 146.5h1.1M71.7 143.0h1.1M72.5 138.8h1.1M75.0 136.5h1.1M70.3 144.1h1.1M73.8 143.8h1.1M80.4 136.4h1.1M75.0 138.8h1.1M67.7 145.8h1.1M65.5 149.1h1.1M88.6 131.1h1.1M76.3 137.4h1.1M66.7 148.2h1.1M77.2 141.1h1.1M78.3 136.9h1.1M74.7 138.9h1.1M67.8 152.0h1.1M84.7 131.8h1.1M77.5 136.8h1.1M73.9 141.2h1.1M79.9 138.3h1.1M73.8 141.4h1.1M74.0 142.7h1.1M80.9 137.1h1.1M66.8 152.0h1.1M78.1 133.3h1.1M76.8 138.0h1.1M78.8 136.3h1.1M80.1 136.0h1.1M84.1 133.5h1.1M84.1 134.6h1.1M79.3 135.5h1.1M72.2 141.2h1.1M79.2 137.2h1.1M72.4 142.3h1.1M73.0 147.5h1.1M78.3 138.6h1.1M77.4 138.7h1.1M82.7 135.6h1.1M64.2 150.7h1.1M78.2 137.0h1.1M78.7 136.8h1.1M77.0 140.6h1.1M84.6 134.4h1.1M72.3 145.8h1.1M78.3 139.6h1.1M73.6 142.1h1.1M76.1 140.9h1.1M70.6 145.1h1.1M76.4 142.5h1.1M78.3 136.2h1.1M76.2 139.7h1.1M77.7 138.9h1.1M72.9 145.2h1.1M82.7 131.4h1.1M72.0 143.7h1.1M74.8 139.3h1.1M77.0 135.8h1.1M76.1 142.6h1.1M80.0 137.0h1.1M74.8 137.6h1.1M82.9 130.5h1.1M79.1 138.2h1.1M76.9 137.6h1.1M70.4 143.2h1.1M79.5 139.5h1.1M80.1 134.6h1.1M77.3 137.8h1.1M71.8 145.8h1.1M72.1 142.3h1.1M74.6 141.6h1.1M76.0 140.5h1.1M69.8 148.3h1.1M84.0 129.9h1.1M76.5 142.2h1.1M76.6 140.2h1.1M75.7 144.8h1.1M75.7 140.9h1.1M84.4 130.0h1.1M70.3 144.6h1.1M71.7 141.7h1.1M70.5 145.7h1.1M72.8 143.1h1.1M84.2 133.7h1.1M72.6 143.7h1.1M72.3 141.8h1.1M68.0 150.9h1.1M73.3 141.8h1.1M77.0 139.6h1.1M75.0 144.6h1.1M75.2 144.0h1.1M78.6 135.5h1.1M78.0 137.6h1.1M76.7 142.5h1.1M72.9 145.6h1.1M68.8 148.7h1.1M84.9 132.9h1.1M65.3 145.7h1.1M78.4 136.8h1.1M72.8 139.7h1.1M71.2 143.4h1.1M79.4 135.5h1.1M72.5 144.7h1.1M83.2 135.4h1.1M71.5 146.5h1.1M78.3 138.2h1.1M81.4 133.5h1.1M72.4 146.8h1.1M86.1 130.0h1.1M77.5 133.9h1.1M64.6 151.5h1.1M82.9 133.9h1.1M83.7 129.5h1.1M74.5 141.9h1.1M76.4 143.1h1.1M77.0 138.1h1.1M66.2 149.9h1.1M76.2 139.5h1.1M78.9 134.4h1.1M72.2 142.5h1.1M79.7 133.5h1.1M85.9 128.8h1.1M67.6 151.0h1.1M76.8 135.2h1.1M65.2 139.1h1.1M74.9 135.0h1.1M62.1 152.2h1.1M74.6 146.9h1.1M71.8 135.8h1.1M76.6 138.8h1.1M68.7 149.6h1.1M72.4 146.0h1.1M72.2 142.8h1.1M62.6 139.8h1.1M70.2 148.2h1.1M75.6 140.3h1.1M64.6 153.6h1.1M67.1 146.2h1.1M77.3 145.2h1.1M81.2 134.0h1.1M70.7 141.4h1.1M78.8 142.5h1.1M61.9 146.1h1.1M70.2 142.9h1.1M85.6 131.6h1.1M84.8 130.2h1.1M78.3 141.3h1.1M70.9 146.8h1.1M74.5 147.9h1.1M80.6 133.7h1.1M66.5 148.6h1.1M66.0 151.2h1.1M66.6 140.7h1.1M81.6 140.5h1.1M62.1 149.5h1.1M77.1 143.9h1.1M77.9 144.5h1.1M75.2 145.3h1.1M71.2 145.5h1.1M76.8 135.7h1.1M70.7 134.8h1.1M62.9 155.9h1.1M82.5 131.8h1.1M79.1 144.7h1.1M73.3 141.1h1.1M70.7 148.1h1.1M68.7 145.3h1.1M69.2 145.0h1.1M75.4 139.5h1.1M64.0 104.6h1.1M69.9 124.3h1.1M74.4 104.6h1.1M76.8 98.6h1.1M76.8 101.7h1.1M77.9 104.6h1.1M80.0 105.6h1.1M81.2 105.2h1.1M82.5 94.3h1.1M82.0 98.6h1.1M84.0 101.7h1.1M85.0 96.7h1.1M82.9 107.4h1.1M80.0 109.1h1.1M77.9 111.2h1.1M75.8 114.1h1.1M85.0 114.1h1.1M75.8 118.3h1.1M78.5 118.3h1.1M82.9 119.3h1.1M76.5 121.4h1.1M83.2 121.8h1.1M84.2 123.9h1.1M89.4 93.9h1.1M93.4 102.1h1.1M90.5 104.9h1.1M93.4 105.6h1.1M92.0 107.7h1.1M97.4 109.1h1.1M99.2 111.2h1.1M98.2 118.3h1.1M91.2 120.7h1.1M98.2 123.2h1.1M91.2 123.9h1.1M92.0 134.9h1.1M94.4 131.3h1.1M93.4 137.4h1.1M96.9 139.1h1.1M90.5 144.7h1.1M94.8 146.1h1.1M92.0 149.2h1.1M78.5 154.6h1.1M78.5 160.2h1.1M81.2 160.2h1.1M75.0 152.5h1.1M80.0 150.4h1.1M83.5 143.3h1.1M65.5 158.0h1.1M62.5 150.0h1.1M68.5 156.0h1.1" stroke="#000" stroke-width="1.1" fill="none" opacity="1.0"/>
<circle cx="91.5" cy="100.4" r="1.4" fill="#000"/>
<path d="M191.3 153.2 L206.9 138.3 L204.1 135.3 L188.3 150.0Z" fill="#000" stroke="#000" stroke-width="2.4" stroke-linejoin="round"/>
<path d="M205.2 138.7 L211.0 131.8 L210.2 131.2 L203.8 137.3Z" fill="#000" stroke="#000" stroke-width="1.2" stroke-linejoin="round"/>
<path d="M189.5 153.5h1.1M189.4 143.0h1.1M199.1 148.3h1.1M200.2 136.8h1.1M198.1 143.4h1.1M190.8 149.0h1.1M204.4 138.5h1.1M197.2 141.8h1.1M202.6 140.8h1.1M190.4 145.7h1.1M183.3 159.4h1.1M193.0 147.2h1.1M192.8 149.4h1.1M199.5 145.1h1.1M188.1 149.0h1.1M191.9 147.2h1.1M189.6 149.0h1.1M197.3 143.8h1.1M192.9 148.6h1.1M204.1 140.0h1.1M200.7 141.6h1.1M200.4 140.7h1.1M196.7 146.2h1.1M199.5 145.2h1.1M202.2 142.4h1.1M196.3 151.4h1.1M201.5 138.2h1.1M196.9 145.1h1.1M200.5 137.0h1.1M205.9 134.0h1.1M204.8 138.9h1.1M194.0 151.0h1.1M201.6 138.6h1.1M196.2 146.5h1.1M195.2 146.3h1.1M196.6 146.2h1.1M192.0 149.7h1.1M197.3 142.6h1.1M190.3 143.7h1.1M199.6 137.4h1.1M198.9 143.7h1.1M185.2 155.1h1.1M195.8 151.8h1.1M192.5 148.7h1.1M195.2 148.8h1.1M192.2 145.3h1.1M195.7 141.3h1.1M196.5 145.4h1.1M194.6 151.7h1.1M199.5 143.3h1.1M200.5 140.2h1.1M197.6 145.1h1.1M203.1 140.6h1.1M199.5 143.4h1.1M194.4 146.8h1.1M193.5 144.4h1.1M195.2 142.6h1.1M198.5 141.4h1.1M197.5 143.5h1.1M199.3 138.3h1.1M204.4 142.3h1.1M193.3 149.6h1.1M191.0 148.4h1.1M197.6 146.1h1.1M202.6 146.5h1.1M201.3 141.1h1.1M200.1 142.1h1.1M201.2 143.6h1.1M190.7 146.1h1.1M197.7 142.0h1.1M192.9 145.9h1.1M199.9 144.0h1.1M198.4 138.0h1.1M194.4 147.7h1.1M195.1 144.7h1.1M207.4 133.8h1.1M192.7 146.7h1.1M196.9 148.9h1.1M190.8 147.6h1.1M188.7 148.5h1.1M201.8 140.8h1.1M193.0 146.3h1.1M194.9 147.8h1.1M193.3 147.7h1.1M184.5 156.1h1.1M200.3 141.4h1.1M191.9 144.0h1.1M193.6 141.4h1.1M206.0 142.0h1.1M194.5 143.2h1.1M198.2 144.8h1.1M196.0 141.9h1.1M202.4 139.0h1.1M190.5 149.6h1.1M196.6 149.1h1.1M186.9 153.1h1.1M194.7 141.8h1.1M197.6 139.5h1.1M195.5 146.7h1.1M207.1 137.6h1.1M204.3 143.6h1.1M208.8 139.7h1.1M195.6 141.4h1.1M204.8 136.7h1.1M192.9 144.5h1.1M199.3 143.0h1.1M198.8 145.1h1.1M192.4 143.1h1.1M205.7 138.8h1.1M204.0 140.0h1.1M193.7 146.7h1.1M199.3 140.4h1.1M200.1 146.5h1.1M197.7 143.3h1.1M198.2 139.9h1.1M195.2 146.4h1.1M199.6 145.0h1.1M199.6 144.0h1.1M191.6 143.5h1.1M192.9 144.0h1.1M200.5 139.9h1.1M197.6 144.2h1.1M207.9 134.6h1.1M204.8 133.3h1.1M195.4 148.6h1.1M199.3 143.6h1.1M185.8 150.0h1.1M192.8 145.4h1.1M192.9 147.8h1.1M191.3 145.0h1.1M187.5 153.2h1.1M198.4 143.5h1.1M197.0 143.1h1.1M194.2 148.7h1.1M199.3 147.6h1.1M200.1 139.5h1.1M204.8 138.5h1.1M190.4 149.2h1.1M206.3 140.3h1.1M191.2 153.5h1.1M193.3 147.8h1.1M194.3 145.1h1.1M205.0 139.3h1.1M199.5 141.8h1.1M197.7 140.0h1.1M202.3 136.4h1.1M197.7 143.2h1.1M198.2 149.8h1.1M205.1 140.1h1.1M198.0 147.6h1.1M192.7 151.2h1.1M191.3 153.8h1.1M199.9 146.2h1.1M203.5 134.9h1.1M201.1 142.3h1.1M198.1 145.2h1.1M203.1 140.2h1.1M191.0 151.3h1.1M195.0 138.6h1.1M194.8 146.9h1.1M201.0 136.5h1.1M194.7 149.4h1.1M199.7 140.3h1.1M197.4 143.2h1.1M196.9 144.3h1.1M196.9 138.3h1.1M196.1 144.7h1.1M201.4 136.4h1.1M197.4 146.8h1.1M186.5 152.5h1.1M201.6 136.6h1.1M204.7 140.9h1.1M198.7 141.8h1.1M201.6 137.1h1.1M199.8 141.4h1.1M192.9 147.5h1.1M188.2 153.3h1.1M190.8 147.1h1.1M197.3 147.3h1.1M199.7 142.8h1.1M193.1 152.9h1.1M193.8 149.1h1.1M202.2 136.6h1.1M195.4 149.0h1.1M193.3 147.0h1.1M192.9 148.5h1.1M200.4 133.8h1.1M198.5 139.1h1.1M202.9 143.0h1.1M205.9 139.4h1.1M198.5 137.6h1.1M203.4 139.4h1.1M199.1 143.5h1.1M202.7 142.8h1.1M198.1 140.1h1.1M197.4 138.7h1.1M192.2 149.8h1.1M195.0 144.3h1.1M194.4 145.0h1.1M192.7 145.7h1.1M198.6 146.6h1.1M203.6 135.6h1.1M202.5 142.1h1.1M198.3 145.1h1.1M197.4 142.0h1.1M204.6 140.2h1.1M193.5 151.5h1.1M199.2 143.5h1.1M203.9 137.3h1.1M206.0 138.3h1.1M199.8 139.6h1.1M200.1 143.0h1.1M191.2 154.4h1.1M191.7 145.3h1.1M194.0 141.8h1.1M199.7 144.1h1.1M197.4 141.4h1.1M186.1 153.2h1.1M194.7 147.0h1.1M197.2 142.4h1.1M193.7 147.9h1.1M194.4 143.9h1.1M198.3 141.6h1.1M198.1 143.1h1.1M198.5 144.7h1.1M199.5 140.8h1.1M202.3 140.4h1.1M196.5 146.7h1.1M193.0 149.7h1.1M193.6 147.2h1.1M196.7 148.7h1.1M195.5 143.5h1.1M191.8 152.4h1.1M195.0 149.3h1.1M197.1 147.0h1.1M202.1 138.1h1.1M200.6 143.9h1.1M197.0 145.9h1.1M199.1 139.1h1.1M197.2 143.3h1.1M196.0 141.4h1.1M202.2 140.7h1.1M200.5 145.4h1.1M199.0 145.4h1.1M198.6 139.9h1.1M193.0 145.1h1.1M196.9 144.0h1.1M187.5 152.9h1.1M196.2 147.4h1.1M203.2 137.6h1.1M197.1 147.8h1.1M196.2 143.6h1.1M196.7 147.9h1.1M190.3 146.3h1.1M198.3 141.6h1.1M196.9 144.6h1.1M203.0 141.3h1.1M193.9 149.0h1.1M195.9 142.9h1.1M193.5 143.8h1.1M194.4 146.8h1.1M201.6 139.9h1.1M193.2 146.8h1.1M193.8 147.4h1.1M206.1 132.0h1.1M197.5 145.6h1.1M197.6 146.9h1.1M197.7 141.1h1.1M191.3 147.2h1.1M200.4 145.0h1.1M193.4 151.0h1.1M193.7 145.1h1.1M193.5 145.7h1.1M200.3 136.1h1.1M200.5 142.6h1.1M205.4 137.2h1.1M204.4 137.6h1.1M197.4 150.9h1.1M199.1 142.0h1.1M194.9 146.0h1.1M194.6 147.4h1.1M202.0 139.2h1.1M205.0 140.3h1.1M197.3 143.6h1.1M198.7 143.3h1.1M201.7 146.9h1.1M197.6 142.2h1.1M196.8 141.1h1.1M192.8 148.8h1.1M198.8 140.9h1.1M193.1 146.2h1.1M192.1 149.7h1.1M197.7 146.4h1.1M195.9 140.9h1.1M200.4 140.7h1.1M195.6 139.5h1.1M199.7 144.7h1.1M192.5 145.5h1.1M199.7 143.8h1.1M200.6 146.5h1.1M200.3 145.4h1.1M194.3 148.2h1.1M201.5 134.3h1.1M203.1 144.4h1.1M199.3 141.0h1.1M198.6 145.3h1.1M195.0 144.8h1.1M200.7 140.2h1.1M193.6 152.4h1.1M192.4 143.6h1.1M193.8 143.6h1.1M199.0 141.6h1.1M197.2 147.4h1.1M199.4 134.6h1.1M191.1 153.7h1.1M203.2 137.3h1.1M199.4 144.2h1.1M205.0 144.8h1.1M195.4 147.4h1.1M203.1 142.0h1.1M197.6 148.0h1.1M197.6 142.9h1.1M190.6 150.7h1.1M199.1 141.9h1.1M197.8 144.3h1.1M188.2 151.7h1.1M195.7 144.0h1.1M194.6 144.8h1.1M201.7 142.3h1.1M191.9 145.1h1.1M197.9 143.8h1.1M204.7 141.4h1.1M191.0 145.8h1.1M202.5 133.9h1.1M199.0 144.5h1.1M194.7 144.1h1.1M189.8 148.9h1.1M190.0 152.8h1.1M201.6 141.0h1.1M193.9 145.3h1.1M193.7 146.5h1.1M199.4 137.7h1.1M199.0 140.7h1.1M197.3 143.8h1.1M191.3 151.4h1.1M189.2 153.4h1.1M203.7 143.4h1.1M196.6 144.5h1.1M197.3 147.1h1.1M205.8 137.0h1.1M193.6 144.6h1.1M199.0 143.5h1.1M206.9 136.2h1.1M200.6 143.0h1.1M195.3 147.5h1.1M193.4 148.1h1.1M201.0 138.0h1.1M191.0 149.0h1.1M201.1 141.4h1.1M205.1 138.8h1.1M197.8 146.1h1.1M201.2 141.6h1.1M198.2 145.1h1.1M205.4 140.9h1.1M198.5 143.6h1.1M193.1 146.4h1.1M196.4 140.6h1.1M197.7 143.8h1.1M195.2 147.9h1.1M195.4 144.7h1.1M193.9 151.7h1.1M192.0 146.4h1.1M199.3 141.1h1.1M188.8 151.9h1.1M196.3 141.2h1.1M198.5 145.9h1.1M193.2 145.6h1.1M201.4 136.7h1.1M197.3 138.5h1.1M195.7 148.3h1.1M199.8 145.5h1.1M199.5 138.9h1.1M187.9 148.5h1.1M197.2 142.7h1.1M195.8 145.3h1.1M197.9 141.8h1.1M207.0 136.4h1.1M192.5 145.3h1.1M198.5 149.0h1.1M192.2 149.8h1.1M199.4 145.0h1.1M199.1 141.1h1.1M187.5 156.0h1.1M205.9 141.0h1.1M202.9 136.6h1.1M185.4 155.5h1.1M191.8 152.2h1.1M199.7 143.1h1.1M196.1 142.6h1.1M201.5 138.7h1.1M196.6 146.4h1.1M203.2 139.5h1.1M190.0 148.9h1.1M199.4 143.1h1.1M191.8 142.5h1.1M195.1 146.3h1.1M190.7 153.1h1.1M196.7 147.4h1.1M202.5 137.9h1.1M194.6 147.3h1.1M196.4 145.6h1.1M197.5 143.5h1.1M191.6 146.9h1.1M196.1 140.8h1.1M198.6 140.9h1.1M194.1 143.1h1.1M185.6 148.4h1.1M205.5 139.7h1.1M195.0 141.5h1.1M195.8 143.0h1.1M195.0 143.8h1.1M191.6 143.5h1.1M190.0 151.2h1.1M194.0 141.3h1.1M200.1 146.0h1.1M199.0 137.5h1.1M202.8 135.8h1.1M193.3 146.5h1.1M203.6 136.9h1.1M197.1 143.4h1.1M201.0 143.2h1.1M194.4 150.2h1.1M202.0 146.3h1.1M191.2 146.1h1.1M201.7 143.1h1.1M192.7 150.5h1.1M197.0 143.6h1.1M193.4 143.9h1.1M202.5 146.7h1.1M200.2 145.2h1.1M195.3 140.7h1.1M197.4 148.8h1.1M201.8 141.5h1.1M200.2 142.3h1.1M195.1 148.8h1.1M199.7 140.2h1.1M194.3 146.7h1.1M199.2 145.4h1.1M195.2 142.8h1.1M194.9 142.4h1.1M198.3 138.2h1.1M190.5 152.9h1.1M201.4 137.2h1.1M189.0 150.9h1.1M202.1 138.2h1.1M200.7 142.8h1.1M191.3 150.8h1.1M197.7 141.3h1.1M198.1 147.7h1.1M192.8 149.7h1.1M203.3 139.7h1.1M201.7 138.7h1.1M198.6 141.9h1.1M204.5 136.7h1.1M198.1 143.4h1.1M196.9 145.8h1.1M203.9 139.3h1.1M193.8 146.6h1.1M200.8 140.5h1.1M203.5 140.5h1.1M200.3 145.0h1.1M199.9 145.5h1.1M199.6 141.9h1.1M196.7 140.9h1.1M194.7 147.1h1.1M195.4 146.2h1.1M191.8 150.8h1.1M201.1 139.1h1.1M195.7 146.0h1.1M195.1 139.2h1.1M203.6 143.7h1.1M202.1 139.7h1.1M192.9 147.2h1.1M207.9 135.8h1.1M201.3 139.7h1.1M199.3 140.0h1.1M194.8 149.0h1.1M206.6 135.6h1.1M199.5 140.0h1.1M203.6 140.4h1.1M196.9 145.8h1.1M206.6 136.6h1.1M203.7 137.3h1.1M198.7 146.0h1.1M205.1 134.1h1.1M194.1 149.6h1.1M203.7 142.7h1.1M199.0 139.7h1.1M200.9 141.4h1.1M191.6 143.9h1.1M195.9 145.5h1.1M199.1 137.2h1.1M200.1 137.4h1.1M197.4 144.6h1.1M197.8 146.9h1.1M195.8 147.0h1.1M202.9 138.2h1.1M195.4 143.4h1.1M194.8 146.4h1.1M192.4 155.9h1.1M191.4 153.9h1.1M190.1 146.7h1.1M187.0 151.5h1.1M193.1 143.6h1.1M196.5 146.5h1.1M192.1 148.0h1.1M192.8 143.6h1.1M196.3 144.4h1.1M188.4 150.9h1.1M198.7 144.4h1.1M202.2 141.9h1.1M208.5 137.7h1.1M196.2 140.8h1.1M199.6 139.3h1.1M195.6 144.4h1.1M200.9 141.1h1.1M208.8 133.7h1.1M204.3 136.3h1.1M199.3 142.0h1.1M200.9 142.6h1.1M209.4 135.2h1.1M200.9 138.6h1.1M199.9 140.9h1.1M207.5 134.2h1.1M204.0 143.9h1.1M198.6 141.2h1.1M204.7 137.5h1.1M197.1 144.5h1.1M200.2 140.2h1.1M200.5 143.4h1.1M203.2 138.1h1.1M201.6 138.6h1.1M210.6 131.0h1.1M206.0 136.1h1.1M202.0 137.8h1.1M204.2 135.3h1.1M203.3 141.1h1.1M203.1 136.8h1.1M206.5 137.3h1.1M204.5 136.4h1.1M207.7 131.5h1.1M203.7 134.7h1.1M197.6 139.4h1.1M204.8 138.3h1.1M198.8 144.2h1.1M210.8 129.4h1.1M193.4 145.2h1.1M201.5 138.4h1.1M205.0 136.6h1.1M200.3 144.2h1.1M200.0 139.6h1.1M204.9 132.0h1.1M197.7 144.1h1.1M206.1 134.2h1.1M200.5 138.5h1.1M198.7 137.7h1.1M211.8 130.9h1.1M207.7 137.1h1.1M202.9 135.6h1.1M199.6 137.7h1.1M202.6 137.1h1.1M201.4 138.9h1.1M211.0 131.4h1.1M203.5 137.8h1.1M197.2 139.5h1.1M200.8 141.0h1.1M204.7 137.2h1.1M197.2 142.5h1.1M199.7 142.1h1.1M193.9 143.6h1.1M192.2 147.9h1.1M210.5 127.0h1.1M201.6 139.4h1.1M211.1 131.9h1.1M202.5 133.5h1.1M203.9 137.2h1.1M198.8 144.1h1.1M202.8 138.9h1.1M205.4 139.8h1.1M198.7 142.2h1.1M208.5 138.2h1.1M208.0 133.3h1.1M203.1 134.8h1.1M203.4 137.3h1.1M194.5 144.9h1.1M216.1 128.1h1.1M208.0 137.3h1.1M199.9 145.7h1.1M198.8 144.4h1.1M199.7 141.2h1.1M197.7 142.0h1.1M201.4 136.9h1.1M199.9 143.0h1.1M201.6 136.3h1.1M200.5 140.1h1.1M201.9 139.9h1.1M198.2 144.1h1.1M201.7 135.9h1.1M202.2 135.8h1.1M197.7 140.5h1.1M196.7 146.7h1.1M201.5 136.8h1.1M193.8 145.1h1.1M200.0 142.7h1.1M205.8 137.8h1.1M210.5 135.6h1.1M201.4 139.8h1.1M205.3 138.4h1.1M205.9 130.8h1.1M198.9 144.0h1.1M201.9 141.6h1.1M205.1 138.7h1.1M207.7 132.4h1.1M199.4 145.6h1.1M199.6 146.0h1.1M206.8 134.6h1.1M207.9 133.7h1.1M199.5 141.0h1.1M202.5 138.1h1.1M206.8 134.7h1.1M200.0 138.1h1.1M192.7 145.2h1.1M203.1 137.6h1.1M206.0 134.1h1.1M198.4 145.5h1.1M207.8 133.0h1.1M199.9 139.0h1.1M192.5 144.3h1.1M203.0 137.5h1.1M194.6 144.0h1.1M206.0 130.7h1.1M207.0 139.3h1.1M207.7 128.8h1.1M197.4 148.2h1.1M207.0 142.3h1.1M208.9 132.8h1.1M207.1 133.2h1.1M206.1 137.1h1.1M203.0 136.2h1.1M199.2 141.4h1.1M204.2 138.2h1.1M192.4 155.6h1.1M219.6 143.1h1.1M202.6 146.6h1.1M202.7 143.5h1.1M206.4 132.2h1.1M188.5 153.4h1.1M186.2 148.8h1.1M200.7 141.4h1.1M198.2 137.4h1.1M200.0 148.5h1.1M203.9 150.8h1.1M199.6 148.2h1.1M199.2 158.4h1.1M185.6 149.1h1.1M195.6 151.4h1.1M199.1 142.3h1.1M202.3 141.1h1.1M186.1 148.9h1.1M211.2 131.4h1.1M215.6 127.1h1.1M198.0 140.0h1.1M195.9 152.7h1.1M199.4 147.2h1.1M207.8 141.8h1.1M196.3 142.6h1.1M210.5 128.5h1.1M193.0 141.9h1.1M207.9 139.7h1.1M204.8 143.4h1.1M215.1 128.0h1.1M199.5 138.5h1.1M202.3 140.5h1.1M193.7 150.9h1.1M198.2 147.0h1.1M188.0 151.9h1.1M225.6 124.8h1.1M202.8 147.2h1.1M194.5 142.1h1.1M199.8 144.3h1.1M201.8 141.0h1.1M199.0 135.6h1.1M183.9 154.0h1.1M208.8 135.5h1.1M202.6 146.7h1.1M196.2 141.6h1.1M210.9 129.8h1.1M200.0 140.9h1.1M191.6 147.6h1.1M188.1 144.9h1.1M206.9 140.7h1.1M198.5 142.3h1.1M201.0 143.9h1.1M191.1 154.4h1.1M198.6 140.9h1.1M190.9 145.0h1.1M190.7 146.8h1.1M206.7 133.0h1.1M198.4 138.9h1.1M195.7 144.4h1.1M201.9 132.2h1.1M211.2 129.0h1.1M185.7 152.0h1.1M206.3 137.7h1.1M202.0 143.2h1.1M203.3 149.6h1.1M212.5 137.4h1.1M207.0 139.7h1.1M195.4 146.6h1.1M208.3 135.0h1.1M198.4 146.0h1.1M198.0 142.9h1.1M189.1 152.8h1.1M196.6 140.6h1.1M204.3 140.6h1.1M193.7 143.0h1.1M197.6 141.9h1.1M206.6 133.1h1.1M205.0 152.5h1.1M194.4 148.3h1.1M214.2 134.8h1.1M189.9 144.7h1.1M188.4 151.6h1.1M199.5 148.3h1.1M188.6 150.8h1.1M186.9 148.0h1.1M197.2 149.4h1.1M197.5 145.1h1.1M193.8 103.5h1.1M198.0 100.0h1.1M200.1 100.7h1.1M201.5 98.6h1.1M204.3 97.2h1.1M205.8 96.7h1.1M206.9 97.6h1.1M207.2 99.0h1.1M205.0 99.3h1.1M202.9 101.4h1.1M209.3 100.0h1.1M210.0 101.4h1.1M208.6 102.8h1.1M203.6 104.2h1.1M203.6 105.6h1.1M201.5 109.4h1.1M203.6 109.1h1.1M202.9 111.2h1.1M208.6 109.1h1.1M207.9 113.4h1.1M209.8 116.9h1.1M193.1 123.9h1.1M205.4 98.2h1.1M206.4 96.2h1.1M204.6 96.4h1.1M214.2 97.9h1.1M214.9 99.0h1.1M214.2 100.4h1.1M217.8 98.6h1.1M216.3 102.1h1.1M218.4 102.1h1.1M229.8 108.4h1.1M218.1 111.9h1.1M221.9 117.3h1.1M214.9 122.5h1.1M215.6 123.9h1.1M218.4 124.3h1.1M216.4 132.6h1.1M214.2 136.1h1.1M218.4 135.5h1.1M216.8 150.0h1.1M217.5 136.4h1.1M214.2 137.1h1.1M220.0 143.2h1.1M215.2 141.8h1.1M217.4 149.8h1.1M216.0 137.2h1.1M216.8 135.7h1.1M213.6 134.2h1.1M216.8 134.2h1.1M217.6 146.3h1.1M200.8 151.2h1.1M202.0 154.3h1.1M189.5 157.5h1.1M207.9 156.5h1.1M205.6 151.3h1.1M190.1 157.4h1.1M199.5 152.5h1.1M202.3 154.1h1.1M211.5 158.3h1.1M204.4 155.6h1.1M210.4 153.6h1.1M212.4 152.9h1.1M207.3 155.4h1.1M197.1 156.1h1.1" stroke="#000" stroke-width="1.1" fill="none" opacity="1.0"/>
<path d="M322.1 145.7 L345.2 127.8 L341.8 123.8 L319.9 142.9Z" fill="#000" stroke="#000" stroke-width="2.8" stroke-linejoin="round"/>
<path d="M331.4 135.9h1.1M328.7 139.6h1.1M334.6 133.0h1.1M336.0 130.5h1.1M327.1 141.5h1.1M335.6 132.2h1.1M326.5 135.0h1.1M326.6 131.2h1.1M335.0 127.9h1.1M325.3 140.5h1.1M333.4 138.1h1.1M340.0 125.8h1.1M340.0 128.6h1.1M326.9 134.9h1.1M327.3 141.2h1.1M341.9 132.9h1.1M331.6 131.7h1.1M333.4 133.5h1.1M327.1 146.1h1.1M331.6 133.3h1.1M322.0 139.7h1.1M330.4 136.0h1.1M342.6 127.3h1.1M338.3 128.7h1.1M340.5 127.6h1.1M334.2 137.0h1.1M332.4 131.1h1.1M331.8 139.0h1.1M341.9 124.5h1.1M330.8 139.1h1.1M326.4 143.8h1.1M329.6 137.1h1.1M336.9 129.1h1.1M327.1 134.7h1.1M330.5 130.9h1.1M325.3 142.7h1.1M325.2 134.0h1.1M324.6 140.6h1.1M324.8 139.0h1.1M332.1 138.2h1.1M333.9 131.1h1.1M344.6 129.2h1.1M334.5 132.1h1.1M329.4 144.3h1.1M325.0 139.1h1.1M322.6 140.9h1.1M329.2 133.3h1.1M328.3 141.9h1.1M329.6 135.1h1.1M327.1 142.2h1.1M339.4 127.2h1.1M327.5 133.4h1.1M338.1 134.7h1.1M332.1 138.9h1.1M343.4 124.0h1.1M325.5 143.4h1.1M331.4 128.4h1.1M340.8 130.3h1.1M331.2 134.2h1.1M337.7 131.0h1.1M331.3 134.3h1.1M338.6 130.0h1.1M331.6 134.2h1.1M340.9 125.7h1.1M323.4 141.2h1.1M336.9 131.5h1.1M331.1 138.6h1.1M330.3 136.8h1.1M334.3 130.6h1.1M328.5 136.9h1.1M328.0 136.7h1.1M338.7 136.0h1.1M323.9 136.8h1.1M331.2 136.1h1.1M335.9 127.4h1.1M328.6 139.4h1.1M337.9 127.9h1.1M326.3 139.4h1.1M332.5 132.2h1.1M334.1 136.1h1.1M326.5 143.5h1.1M337.4 132.5h1.1M325.7 142.9h1.1M340.4 129.3h1.1M335.1 121.3h1.1M326.6 135.3h1.1M332.8 135.0h1.1M330.1 134.6h1.1M321.4 138.0h1.1M323.7 134.1h1.1M330.2 133.5h1.1M334.7 138.3h1.1M337.1 127.2h1.1M331.3 139.4h1.1M327.4 135.6h1.1M337.0 133.5h1.1M337.0 132.3h1.1M328.9 133.8h1.1M331.8 132.1h1.1M327.5 135.8h1.1M332.0 136.7h1.1M317.4 140.8h1.1M322.0 142.4h1.1M335.4 129.4h1.1M331.3 141.2h1.1M323.6 136.9h1.1M335.2 133.2h1.1M343.6 125.9h1.1M340.1 133.1h1.1M336.1 134.9h1.1M329.3 131.2h1.1M345.1 130.1h1.1M341.0 125.9h1.1M334.3 134.5h1.1M326.1 130.8h1.1M335.4 137.2h1.1M335.4 132.2h1.1M331.6 135.3h1.1M328.7 135.8h1.1M331.0 139.8h1.1M319.0 134.8h1.1M330.3 135.3h1.1M331.9 131.2h1.1M324.4 140.1h1.1M329.7 141.7h1.1M335.5 128.1h1.1M326.9 137.9h1.1M331.6 130.2h1.1M326.9 141.3h1.1M320.7 143.2h1.1M335.6 135.7h1.1M338.1 136.1h1.1M328.8 128.9h1.1M327.8 131.0h1.1M338.2 126.9h1.1M330.0 136.5h1.1M325.6 136.7h1.1M333.9 135.2h1.1M337.0 130.2h1.1M330.8 130.4h1.1M337.0 130.3h1.1M338.1 126.0h1.1M324.8 135.7h1.1M330.3 135.1h1.1M329.4 135.4h1.1M335.8 133.9h1.1M319.9 138.9h1.1M333.6 127.1h1.1M324.8 142.6h1.1M332.9 132.7h1.1M329.2 136.2h1.1M328.4 136.5h1.1M331.5 129.2h1.1M322.3 137.8h1.1M335.0 133.2h1.1M329.7 136.8h1.1M323.4 140.7h1.1M338.1 132.5h1.1M327.2 143.8h1.1M334.3 132.2h1.1M330.2 138.4h1.1M331.1 139.1h1.1M338.6 128.9h1.1M332.6 133.5h1.1M328.1 133.7h1.1M338.0 133.7h1.1M329.5 138.2h1.1M340.1 128.5h1.1M326.8 136.5h1.1M336.0 135.2h1.1M325.4 134.2h1.1M336.3 133.7h1.1M328.5 141.6h1.1M330.6 135.5h1.1M333.3 129.8h1.1M322.3 138.7h1.1M331.6 137.9h1.1M333.1 133.2h1.1M329.8 139.1h1.1M328.0 135.3h1.1M332.7 129.7h1.1M340.8 137.6h1.1M320.9 140.2h1.1M327.6 141.0h1.1M318.8 149.4h1.1M330.8 135.8h1.1M334.9 133.5h1.1M327.0 140.4h1.1M327.6 144.9h1.1M333.4 133.8h1.1M329.2 139.3h1.1M345.3 130.5h1.1M337.3 127.2h1.1M318.9 141.5h1.1M335.1 133.2h1.1M334.4 132.6h1.1M336.8 135.0h1.1M332.5 138.0h1.1M323.3 142.5h1.1M333.1 137.2h1.1M328.0 138.0h1.1M345.5 133.9h1.1M336.5 136.1h1.1M338.0 130.4h1.1M330.1 146.4h1.1M331.6 136.6h1.1M331.6 139.2h1.1M325.0 138.4h1.1M326.8 135.9h1.1M325.8 146.9h1.1M331.1 135.0h1.1M324.5 138.3h1.1M330.4 134.3h1.1M334.5 136.6h1.1M328.7 136.6h1.1M325.3 137.6h1.1M330.7 127.3h1.1M333.7 131.2h1.1M328.5 139.1h1.1M335.5 130.8h1.1M315.3 146.6h1.1M335.3 140.3h1.1M334.4 135.6h1.1M329.7 135.4h1.1M322.7 144.9h1.1M329.1 134.3h1.1M337.1 133.5h1.1M335.3 138.4h1.1M323.4 141.6h1.1M333.6 138.8h1.1M339.7 127.6h1.1M335.6 127.7h1.1M338.7 128.9h1.1M330.4 135.8h1.1M336.8 134.5h1.1M331.3 136.3h1.1M329.5 134.7h1.1M324.7 139.6h1.1M331.3 135.6h1.1M337.7 132.3h1.1M330.2 132.9h1.1M320.1 142.4h1.1M334.3 132.9h1.1M323.6 138.4h1.1M336.1 135.7h1.1M327.0 139.2h1.1M337.8 126.3h1.1M328.7 134.7h1.1M338.9 133.4h1.1M322.7 140.7h1.1M328.6 134.3h1.1M333.1 136.4h1.1M325.5 144.1h1.1M325.2 134.5h1.1M328.7 138.4h1.1M334.8 138.9h1.1M335.4 140.0h1.1M324.1 145.2h1.1M338.7 131.9h1.1M332.5 130.2h1.1M329.2 139.8h1.1M335.6 130.2h1.1M329.4 135.9h1.1M329.3 139.6h1.1M322.7 139.9h1.1M316.2 146.2h1.1M336.1 138.3h1.1M338.6 132.1h1.1M331.7 129.2h1.1M333.3 131.1h1.1M339.7 124.3h1.1M323.7 142.5h1.1M333.2 129.9h1.1M342.0 126.3h1.1M330.7 136.0h1.1M342.8 127.8h1.1M330.0 136.9h1.1M328.8 138.2h1.1M321.0 143.5h1.1M333.2 130.7h1.1M337.7 133.4h1.1M334.9 132.6h1.1M331.6 132.4h1.1M333.4 128.9h1.1M330.9 136.0h1.1M324.2 144.7h1.1M333.7 134.1h1.1M332.6 129.8h1.1M345.8 121.9h1.1M327.5 134.6h1.1M331.8 133.6h1.1M323.5 144.4h1.1M322.2 143.1h1.1M325.2 139.8h1.1M338.6 127.2h1.1M331.5 133.4h1.1M332.1 134.9h1.1M325.4 133.1h1.1M332.0 132.9h1.1M332.8 126.8h1.1M336.4 134.4h1.1M329.2 132.8h1.1M334.0 136.0h1.1M330.8 129.8h1.1M338.2 135.4h1.1M334.8 134.8h1.1M330.3 136.6h1.1M323.3 140.4h1.1M331.6 133.8h1.1M330.9 134.2h1.1M332.4 137.4h1.1M330.1 138.1h1.1M326.7 142.1h1.1M336.3 129.4h1.1M327.2 137.4h1.1M328.0 131.9h1.1M325.3 133.1h1.1M324.5 141.2h1.1M333.7 130.8h1.1M322.8 142.3h1.1M330.7 134.9h1.1M328.2 136.4h1.1M331.0 135.0h1.1M322.0 135.3h1.1M336.0 130.1h1.1M338.5 130.1h1.1M334.6 132.0h1.1M328.8 138.0h1.1M320.0 136.6h1.1M343.3 127.8h1.1M321.2 145.0h1.1M325.3 141.7h1.1M333.2 134.2h1.1M334.6 134.0h1.1M326.2 142.4h1.1M332.8 132.3h1.1M323.2 141.2h1.1M335.8 133.2h1.1M330.9 130.5h1.1M332.0 136.4h1.1M335.7 128.8h1.1M332.0 132.6h1.1M317.2 143.9h1.1M335.9 132.1h1.1M330.6 131.3h1.1M338.6 133.5h1.1M329.0 134.8h1.1M334.1 129.9h1.1M332.0 139.7h1.1M333.7 133.0h1.1M333.5 127.5h1.1M328.5 137.5h1.1M329.4 139.5h1.1M334.2 137.7h1.1M337.5 133.5h1.1M333.5 133.2h1.1M336.8 139.6h1.1M335.1 131.7h1.1M330.7 129.7h1.1M329.4 143.6h1.1M341.3 132.0h1.1M340.2 131.4h1.1M341.6 135.4h1.1M324.1 144.5h1.1M338.4 129.6h1.1M326.5 140.7h1.1M330.3 133.4h1.1M331.5 136.9h1.1M339.2 126.2h1.1M335.4 128.9h1.1M329.0 131.9h1.1M334.2 132.9h1.1M329.4 139.0h1.1M325.0 138.7h1.1M332.2 128.4h1.1M334.1 129.5h1.1M331.6 134.4h1.1M339.6 127.3h1.1M340.4 125.7h1.1M327.2 134.2h1.1M336.0 137.2h1.1M334.6 132.7h1.1M322.1 143.8h1.1M338.3 129.9h1.1M335.3 127.9h1.1M336.3 135.7h1.1M330.8 133.6h1.1M329.5 135.8h1.1M338.3 127.2h1.1M326.4 134.6h1.1M334.3 133.0h1.1M330.0 133.0h1.1M338.9 128.8h1.1M340.5 128.8h1.1M335.6 137.5h1.1M329.6 131.4h1.1M328.0 143.1h1.1M329.2 142.8h1.1M333.0 132.1h1.1M334.6 133.3h1.1M334.0 137.0h1.1M323.6 137.9h1.1M329.5 142.5h1.1M313.5 144.4h1.1M331.7 137.0h1.1M317.8 146.5h1.1M319.3 141.9h1.1M324.4 138.1h1.1M336.2 131.1h1.1M323.7 139.9h1.1M333.7 132.3h1.1M340.5 126.2h1.1M335.8 134.1h1.1M334.3 133.6h1.1M324.4 141.2h1.1M329.4 137.9h1.1M322.2 143.8h1.1M336.2 135.8h1.1M333.8 133.5h1.1M338.7 130.0h1.1M330.0 134.2h1.1M330.3 131.5h1.1M324.8 137.9h1.1M332.7 133.4h1.1M335.2 127.5h1.1M335.4 135.7h1.1M333.6 129.9h1.1M331.7 135.4h1.1M332.4 131.9h1.1M332.1 135.3h1.1M327.7 140.8h1.1M333.0 138.5h1.1M333.1 129.5h1.1M334.8 136.0h1.1M329.5 134.5h1.1M329.0 142.2h1.1M331.6 130.1h1.1M327.2 136.2h1.1M330.0 136.0h1.1M336.8 135.1h1.1M337.2 130.7h1.1M330.0 140.0h1.1M329.7 137.8h1.1M336.7 133.7h1.1M329.5 136.2h1.1M340.0 127.1h1.1M336.7 131.1h1.1M331.7 134.8h1.1M324.7 139.0h1.1M335.1 130.8h1.1M329.0 130.3h1.1M320.3 138.3h1.1M324.9 137.3h1.1M329.2 134.8h1.1M332.6 129.6h1.1M323.8 148.2h1.1M328.6 133.6h1.1M332.4 135.5h1.1M344.5 127.4h1.1M330.9 132.4h1.1M333.0 135.5h1.1M330.6 135.3h1.1M331.1 131.9h1.1M335.6 134.5h1.1M331.6 138.6h1.1M338.3 139.2h1.1M343.1 129.6h1.1M327.8 134.3h1.1M336.3 135.1h1.1M338.5 123.5h1.1M326.3 137.9h1.1M326.6 130.2h1.1M328.9 139.8h1.1M335.7 131.7h1.1M340.2 134.4h1.1M335.1 135.4h1.1M330.3 134.7h1.1M331.7 136.9h1.1M333.6 136.3h1.1M335.8 128.7h1.1M332.1 132.2h1.1M339.5 128.8h1.1M338.4 121.9h1.1M326.2 132.1h1.1M340.6 128.0h1.1M338.1 128.9h1.1M330.1 134.2h1.1M322.8 150.2h1.1M326.4 139.9h1.1M337.4 134.5h1.1M321.8 144.0h1.1M338.5 129.4h1.1M325.8 138.0h1.1M330.0 130.9h1.1M327.6 138.2h1.1M328.0 136.1h1.1M333.6 136.0h1.1M323.3 139.0h1.1M328.4 134.9h1.1M328.2 137.9h1.1M332.3 128.7h1.1M324.2 138.0h1.1M342.2 126.3h1.1M339.9 127.2h1.1M323.9 140.1h1.1M324.4 141.2h1.1M328.6 138.2h1.1M337.3 139.3h1.1M334.2 132.6h1.1M333.3 130.8h1.1M337.5 133.9h1.1M331.5 136.6h1.1M324.5 140.1h1.1M328.8 142.8h1.1M326.0 133.4h1.1M327.5 139.6h1.1M343.5 124.1h1.1M329.5 138.0h1.1M338.5 130.7h1.1M336.0 132.8h1.1M328.1 140.6h1.1M322.8 139.7h1.1M328.6 135.5h1.1M334.7 136.0h1.1M329.5 136.8h1.1M336.6 129.8h1.1M326.2 136.0h1.1M327.8 138.1h1.1M330.8 131.6h1.1M344.8 129.8h1.1M340.4 137.4h1.1M342.5 128.6h1.1M327.9 135.6h1.1M339.3 132.7h1.1M331.6 129.8h1.1M346.1 125.7h1.1M329.5 136.4h1.1M334.8 136.1h1.1M326.4 137.5h1.1M326.1 140.5h1.1M338.0 133.9h1.1M334.6 132.1h1.1M329.4 142.2h1.1M336.9 129.9h1.1M331.5 135.0h1.1M335.1 137.9h1.1M342.0 125.7h1.1M336.8 131.2h1.1M337.5 128.2h1.1M339.5 125.9h1.1M336.8 135.8h1.1M331.8 136.4h1.1M338.9 125.6h1.1M341.2 125.7h1.1M324.8 140.8h1.1M329.8 140.1h1.1M329.6 139.2h1.1M329.2 138.9h1.1M337.9 126.1h1.1M334.8 139.9h1.1M330.7 134.1h1.1M334.4 133.4h1.1M335.6 130.8h1.1M335.0 136.8h1.1M335.4 133.0h1.1M326.5 141.6h1.1M333.2 133.5h1.1M327.8 137.0h1.1M333.0 134.8h1.1M340.7 129.7h1.1M336.2 134.3h1.1M333.7 136.2h1.1M341.2 130.4h1.1M338.8 122.1h1.1M336.1 132.0h1.1M329.6 138.4h1.1M342.3 129.9h1.1M332.0 132.8h1.1M325.4 135.6h1.1M332.5 128.9h1.1M327.2 135.6h1.1M326.2 133.9h1.1M325.4 139.7h1.1M328.1 141.5h1.1M333.4 129.9h1.1M316.6 144.6h1.1M333.5 131.2h1.1M333.9 129.2h1.1M337.1 134.5h1.1M329.1 133.2h1.1M326.2 142.4h1.1M330.3 134.7h1.1M332.2 129.5h1.1M337.7 128.6h1.1M330.9 133.9h1.1M318.1 140.8h1.1M325.6 136.8h1.1M326.2 141.7h1.1M334.3 132.6h1.1M328.0 127.8h1.1M332.8 136.6h1.1M330.3 137.6h1.1M321.5 144.4h1.1M334.1 143.1h1.1M333.0 127.1h1.1M325.4 140.6h1.1M327.1 141.3h1.1M319.5 137.6h1.1M329.4 139.3h1.1M331.6 133.7h1.1M318.4 141.3h1.1M335.2 137.6h1.1M326.2 141.7h1.1M340.6 123.8h1.1M328.5 137.3h1.1M330.1 131.1h1.1M325.3 148.7h1.1M333.5 128.6h1.1M331.5 135.7h1.1M327.9 136.7h1.1M341.3 132.5h1.1M330.7 136.8h1.1M329.3 138.1h1.1M340.1 131.0h1.1M328.3 137.4h1.1M335.9 134.8h1.1M330.7 142.3h1.1M328.7 144.9h1.1M335.5 123.8h1.1M333.4 134.3h1.1M338.3 133.0h1.1M336.9 132.1h1.1M334.1 138.1h1.1M333.9 133.3h1.1M330.5 139.8h1.1M326.6 135.2h1.1M331.2 131.3h1.1M317.1 140.9h1.1M332.0 137.2h1.1M326.6 141.0h1.1M333.7 138.9h1.1M325.7 140.8h1.1M339.1 131.0h1.1M333.6 131.3h1.1M330.0 141.5h1.1M335.4 133.3h1.1M321.0 144.6h1.1M326.4 145.9h1.1M332.1 130.3h1.1M341.0 128.9h1.1M331.1 135.8h1.1M336.3 133.1h1.1M333.2 135.4h1.1M341.6 129.8h1.1M325.9 134.4h1.1M322.8 142.3h1.1M325.6 136.8h1.1M331.8 135.0h1.1M331.9 129.7h1.1M328.8 139.4h1.1M338.1 131.2h1.1M325.8 145.5h1.1M329.4 130.5h1.1M323.6 137.2h1.1M328.5 136.6h1.1M327.8 137.5h1.1M333.8 126.4h1.1M337.8 125.6h1.1M318.3 143.7h1.1M330.2 138.0h1.1M333.6 134.6h1.1M326.2 138.9h1.1M333.3 139.4h1.1M333.0 138.4h1.1M336.6 133.2h1.1M327.4 139.2h1.1M337.0 133.6h1.1M330.6 136.5h1.1M334.8 138.8h1.1M325.6 135.3h1.1M330.4 135.2h1.1M331.7 134.5h1.1M345.6 124.7h1.1M335.6 129.4h1.1M330.5 129.5h1.1M331.8 134.0h1.1M330.0 141.7h1.1M336.6 129.1h1.1M326.2 141.6h1.1M328.8 139.8h1.1M336.6 131.7h1.1M327.6 136.8h1.1M326.2 139.1h1.1M349.0 126.5h1.1M326.8 140.5h1.1M330.1 137.2h1.1M323.9 140.6h1.1M332.6 134.8h1.1M339.6 133.4h1.1M347.9 126.4h1.1M339.3 130.0h1.1M335.3 133.2h1.1M334.2 138.2h1.1M340.8 133.1h1.1M332.5 136.6h1.1M333.9 130.7h1.1M320.2 136.1h1.1M332.8 129.7h1.1M324.2 140.5h1.1M330.6 137.1h1.1M321.6 142.2h1.1M323.8 138.9h1.1M341.8 130.5h1.1M333.2 133.4h1.1M325.1 137.6h1.1M336.5 127.2h1.1M321.8 145.5h1.1M330.5 134.3h1.1M325.6 141.5h1.1M335.5 133.1h1.1M336.7 131.6h1.1M330.0 136.4h1.1M330.3 137.7h1.1M325.9 135.4h1.1M338.1 131.7h1.1M332.3 133.1h1.1M341.5 125.2h1.1M333.4 133.5h1.1M332.0 133.4h1.1M326.4 139.6h1.1M325.0 138.3h1.1M339.2 136.6h1.1M327.4 132.9h1.1M337.6 130.6h1.1M334.0 130.9h1.1M326.2 134.5h1.1M330.0 137.3h1.1M340.0 133.1h1.1M335.8 129.7h1.1M338.9 133.8h1.1M324.6 135.5h1.1M333.1 134.1h1.1M325.8 136.0h1.1M342.0 121.6h1.1M328.7 134.3h1.1M330.3 132.8h1.1M330.8 136.4h1.1M330.0 142.0h1.1M336.2 134.0h1.1M331.5 140.7h1.1M326.9 133.3h1.1M324.8 137.9h1.1M340.5 122.6h1.1M342.2 124.2h1.1M324.0 139.5h1.1M332.7 138.6h1.1M332.7 125.3h1.1M335.0 139.1h1.1M319.2 138.2h1.1M336.5 133.5h1.1M324.7 155.0h1.1M350.4 118.7h1.1M339.1 136.5h1.1M323.3 143.2h1.1M338.9 126.1h1.1M346.4 130.7h1.1M337.7 121.3h1.1M334.9 135.8h1.1M320.5 142.5h1.1M327.0 143.5h1.1M348.9 126.2h1.1M330.9 138.4h1.1M324.7 140.2h1.1M331.1 141.8h1.1M314.5 141.5h1.1M330.4 141.7h1.1M336.7 138.0h1.1M324.7 137.4h1.1M346.2 124.6h1.1M325.0 143.4h1.1M344.8 132.4h1.1M336.0 132.8h1.1M344.2 123.7h1.1M333.3 131.7h1.1M313.4 144.4h1.1M316.1 137.1h1.1M336.9 139.1h1.1M327.7 145.5h1.1M343.7 130.4h1.1M316.8 145.0h1.1M340.6 134.1h1.1M332.3 142.8h1.1M335.1 132.2h1.1M339.9 131.2h1.1M311.4 144.1h1.1M327.1 140.6h1.1M339.7 138.6h1.1M335.4 138.8h1.1M323.2 148.2h1.1M328.7 141.2h1.1M328.9 134.4h1.1M324.8 134.5h1.1M333.9 129.0h1.1M344.1 124.5h1.1M334.9 130.7h1.1M323.0 146.6h1.1M319.5 137.0h1.1M338.8 133.3h1.1M335.3 123.5h1.1M325.3 139.5h1.1M326.2 138.4h1.1M315.5 153.4h1.1M340.4 125.9h1.1M330.3 135.1h1.1M327.9 139.7h1.1M335.2 128.4h1.1M338.3 136.5h1.1M341.4 125.1h1.1M324.0 141.1h1.1M335.9 137.7h1.1M323.4 142.8h1.1M330.8 134.6h1.1M330.0 142.2h1.1M321.5 147.1h1.1M322.4 140.8h1.1M340.3 137.3h1.1M323.6 138.5h1.1M335.0 140.9h1.1M315.6 154.6h1.1M334.5 133.5h1.1M329.3 141.2h1.1M326.9 127.4h1.1M345.1 115.9h1.1M337.2 138.2h1.1M322.0 139.0h1.1M329.0 140.7h1.1M336.4 136.2h1.1M332.1 129.7h1.1M331.7 141.4h1.1M334.6 124.5h1.1M336.5 130.6h1.1M324.5 139.7h1.1M326.8 126.5h1.1M339.3 136.0h1.1M316.5 138.2h1.1M320.5 136.8h1.1M335.3 136.5h1.1M325.5 132.2h1.1M338.2 130.4h1.1M334.6 129.1h1.1M325.6 136.2h1.1M336.7 124.7h1.1M330.4 132.9h1.1M337.2 129.9h1.1M355.3 117.4h1.1M323.1 136.7h1.1M320.9 148.8h1.1M338.6 128.5h1.1M328.0 141.4h1.1M323.9 137.0h1.1M336.2 123.2h1.1M335.2 146.2h1.1M346.2 131.6h1.1M330.8 139.5h1.1M323.9 140.7h1.1M332.4 131.3h1.1M330.8 132.8h1.1M327.9 144.6h1.1M336.0 127.2h1.1M322.8 145.3h1.1M332.1 132.4h1.1M327.2 136.4h1.1M334.8 129.4h1.1M332.0 127.6h1.1M326.3 143.7h1.1M329.4 142.4h1.1M346.8 126.1h1.1M335.5 126.5h1.1M336.3 127.2h1.1M337.0 125.8h1.1M336.0 135.9h1.1M317.8 143.3h1.1M326.1 135.8h1.1M330.2 137.3h1.1M332.8 135.3h1.1M314.0 149.4h1.1M345.4 127.6h1.1M323.3 136.1h1.1M341.8 135.5h1.1M311.5 147.8h1.1M331.4 129.3h1.1M327.8 145.0h1.1M337.7 123.7h1.1M324.9 140.1h1.1M338.4 123.4h1.1M345.3 132.1h1.1M323.6 144.0h1.1M327.2 146.4h1.1M325.0 139.6h1.1M327.1 130.5h1.1M338.7 139.8h1.1M327.7 146.9h1.1M327.3 138.0h1.1M331.1 137.2h1.1M334.7 130.3h1.1M319.4 135.0h1.1M332.0 131.3h1.1M331.3 127.1h1.1M339.2 128.9h1.1M325.1 139.5h1.1M343.7 129.5h1.1M348.4 131.8h1.1M336.6 135.6h1.1M330.9 133.7h1.1M333.8 128.9h1.1M332.3 142.7h1.1M323.1 125.4h1.1M333.3 121.5h1.1M323.6 129.8h1.1M334.2 142.0h1.1M324.2 128.0h1.1M332.6 133.4h1.1M343.8 133.1h1.1M339.2 128.0h1.1M315.0 136.1h1.1M331.9 134.7h1.1M330.3 134.8h1.1M339.4 130.6h1.1M338.2 124.6h1.1M327.3 135.3h1.1M330.8 140.9h1.1M315.5 147.6h1.1M333.9 127.9h1.1M336.3 133.1h1.1M333.3 137.5h1.1M324.4 147.2h1.1M334.8 140.5h1.1M323.7 132.4h1.1M325.7 140.7h1.1M325.6 131.0h1.1M318.7 145.4h1.1M333.0 150.1h1.1M333.6 134.4h1.1M343.2 120.5h1.1M315.1 145.7h1.1M336.5 134.0h1.1M332.9 138.6h1.1M328.0 139.8h1.1M344.4 138.0h1.1M314.9 138.3h1.1M336.0 136.3h1.1M321.8 132.6h1.1M332.6 140.7h1.1M317.2 146.9h1.1M326.3 133.2h1.1M334.2 131.6h1.1M328.6 132.3h1.1M316.7 148.8h1.1M334.5 122.3h1.1M336.1 136.0h1.1M335.3 135.8h1.1M336.0 129.6h1.1M326.5 139.3h1.1M342.4 132.5h1.1M338.4 138.6h1.1M329.3 138.8h1.1M331.7 137.4h1.1M332.5 122.8h1.1M346.8 117.0h1.1M326.6 139.2h1.1M329.9 128.9h1.1M323.7 140.9h1.1M332.8 142.4h1.1M330.4 143.2h1.1M329.3 124.8h1.1M332.3 135.4h1.1M312.7 150.9h1.1M320.0 148.4h1.1M316.7 153.9h1.1M317.9 151.8h1.1M320.4 154.1h1.1M313.7 150.8h1.1M310.5 153.4h1.1M310.6 155.9h1.1M323.3 156.9h1.1M313.9 152.2h1.1M317.0 154.4h1.1M321.7 152.7h1.1M314.5 145.2h1.1M320.1 146.8h1.1M312.9 153.6h1.1M322.3 146.8h1.1M319.4 151.7h1.1M320.5 150.6h1.1M324.0 141.3h1.1M317.5 145.7h1.1M315.0 147.9h1.1M312.6 138.7h1.1M314.2 143.1h1.1M318.7 148.5h1.1M314.6 149.1h1.1M316.4 143.3h1.1M321.1 144.6h1.1M312.3 151.0h1.1M318.5 146.3h1.1M318.0 153.7h1.1M319.4 147.9h1.1M311.1 143.2h1.1M323.7 148.7h1.1M320.3 152.4h1.1M317.7 155.6h1.1M331.6 97.5h1.1M334.4 101.9h1.1M336.6 101.2h1.1M317.6 105.5h1.1M314.8 109.6h1.1M329.3 109.6h1.1M334.4 107.0h1.1M333.1 109.9h1.1M333.8 112.1h1.1M324.2 118.0h1.1M327.1 118.7h1.1M329.3 120.2h1.1M330.1 121.6h1.1M336.6 104.1h1.1M342.6 95.3h1.1M348.3 94.6h1.1M355.6 94.6h1.1M343.2 99.0h1.1M351.3 99.7h1.1M355.6 98.2h1.1M340.3 101.9h1.1M343.9 101.9h1.1M348.3 102.3h1.1M350.6 102.6h1.1M353.6 102.6h1.1M355.6 101.2h1.1M342.6 104.8h1.1M348.3 105.5h1.1M346.9 107.0h1.1M346.1 108.5h1.1M351.3 109.9h1.1M361.6 110.2h1.1M342.6 111.4h1.1M352.8 112.1h1.1M349.1 113.6h1.1M349.8 115.0h1.1M355.6 115.0h1.1M341.8 116.5h1.1M346.9 117.2h1.1M349.8 117.2h1.1M353.6 116.5h1.1M342.6 119.4h1.1M346.1 119.4h1.1M349.1 119.0h1.1M351.3 119.4h1.1M354.2 118.7h1.1M341.1 121.6h1.1M343.9 121.9h1.1M346.9 121.3h1.1M349.8 121.6h1.1M348.3 123.1h1.1M348.7 126.8h1.1M346.8 119.1h1.1M352.2 122.4h1.1M348.9 115.6h1.1M345.8 121.6h1.1M348.9 123.2h1.1M343.2 118.7h1.1M347.9 119.3h1.1M340.5 129.2h1.1M346.6 126.0h1.1M355.2 119.3h1.1M343.3 125.8h1.1M344.4 122.2h1.1M345.4 125.6h1.1M348.3 119.8h1.1M340.9 123.9h1.1M342.6 124.3h1.1M344.4 121.7h1.1M343.8 120.1h1.1M340.3 129.6h1.1M350.1 120.9h1.1M349.9 126.7h1.1M352.9 121.0h1.1M347.6 119.3h1.1M342.2 123.5h1.1M341.5 115.3h1.1M343.3 120.0h1.1M343.7 115.4h1.1M348.4 118.9h1.1M346.2 121.7h1.1M345.1 123.7h1.1M343.5 127.2h1.1M352.0 126.2h1.1M346.8 122.4h1.1M349.3 114.0h1.1M359.8 123.1h1.1M344.0 122.5h1.1M351.4 121.1h1.1M350.0 123.0h1.1M344.3 117.6h1.1M347.1 125.6h1.1M344.7 122.4h1.1M344.0 116.6h1.1M351.4 121.7h1.1M345.0 124.6h1.1M352.3 121.2h1.1M348.1 125.9h1.1M343.3 122.3h1.1M344.8 121.2h1.1M348.7 122.3h1.1M344.8 121.3h1.1M347.3 119.7h1.1M351.4 120.3h1.1M346.8 124.7h1.1M348.6 124.6h1.1M347.9 122.3h1.1M347.1 116.9h1.1M343.0 122.2h1.1M351.7 102.3h1.1M352.5 108.4h1.1M343.3 101.6h1.1M351.5 110.4h1.1M351.4 111.1h1.1M351.4 98.0h1.1M355.9 107.4h1.1M345.3 110.7h1.1M344.5 113.7h1.1M356.1 106.2h1.1M348.8 99.6h1.1M354.5 99.7h1.1M347.9 114.3h1.1M349.1 111.6h1.1M346.7 109.8h1.1M352.8 105.5h1.1M345.9 102.6h1.1M349.0 110.8h1.1M352.3 112.3h1.1M347.4 121.5h1.1M341.7 112.7h1.1M341.6 107.2h1.1M345.1 122.4h1.1M356.4 91.7h1.1M345.5 103.4h1.1M350.4 114.3h1.1M353.2 106.7h1.1M345.3 133.8h1.1M345.4 133.9h1.1M353.1 127.3h1.1M343.7 131.4h1.1M342.8 144.1h1.1M342.2 134.6h1.1M343.8 131.3h1.1M346.5 135.1h1.1M348.6 130.9h1.1M342.2 138.3h1.1M344.4 133.9h1.1M346.1 130.1h1.1M345.6 133.6h1.1M353.0 129.4h1.1M345.2 128.7h1.1M343.9 136.5h1.1M342.4 130.5h1.1M350.0 137.9h1.1M344.0 139.9h1.1M345.8 131.2h1.1M352.8 133.3h1.1M344.7 133.2h1.1M347.9 131.5h1.1M347.6 136.0h1.1M343.8 130.5h1.1M342.3 129.9h1.1M352.8 126.6h1.1M350.4 134.8h1.1M345.6 136.9h1.1M354.3 139.0h1.1M344.3 132.5h1.1M345.2 131.2h1.1M346.4 134.5h1.1M347.3 137.8h1.1M344.2 136.2h1.1M344.3 134.1h1.1M342.0 143.7h1.1M341.6 133.2h1.1M342.9 127.4h1.1M349.2 131.3h1.1M345.6 136.6h1.1M346.2 134.2h1.1M350.7 148.1h1.1M349.3 133.7h1.1M347.4 137.8h1.1M348.6 129.7h1.1M343.9 127.4h1.1M344.0 138.8h1.1M351.9 138.9h1.1M348.6 137.1h1.1M351.2 137.7h1.1M346.1 143.7h1.1M346.3 134.2h1.1" stroke="#000" stroke-width="1.1" fill="none" opacity="1.0"/>
<path d="M451.6 147.5 L465.3 135.6 L460.7 130.8 L448.0 143.7Z" fill="#000" stroke="#000" stroke-width="3.0" stroke-linejoin="round"/>
<path d="M463.4 135.5 L472.5 126.0 L470.5 124.0 L460.6 132.5Z" fill="#000" stroke="#000" stroke-width="2.4" stroke-linejoin="round"/>
<path d="M458.7 145.5h1.1M451.6 135.0h1.1M460.8 135.6h1.1M456.2 148.1h1.1M459.2 136.5h1.1M462.7 144.8h1.1M453.8 140.3h1.1M452.9 145.1h1.1M455.7 138.3h1.1M459.8 131.7h1.1M461.6 137.4h1.1M463.2 134.0h1.1M445.4 142.2h1.1M459.8 136.6h1.1M456.3 142.4h1.1M463.8 136.2h1.1M460.1 139.9h1.1M467.2 131.6h1.1M457.5 145.1h1.1M455.0 134.4h1.1M441.5 148.3h1.1M467.2 129.3h1.1M454.2 144.9h1.1M454.1 144.0h1.1M456.8 134.7h1.1M465.9 130.7h1.1M456.3 142.6h1.1M461.4 132.5h1.1M452.7 143.4h1.1M464.0 132.9h1.1M458.3 135.8h1.1M466.2 138.3h1.1M460.1 134.6h1.1M454.9 136.7h1.1M458.4 142.3h1.1M459.5 132.6h1.1M463.9 137.1h1.1M461.5 130.4h1.1M462.1 136.8h1.1M456.6 137.7h1.1M457.1 135.9h1.1M455.4 138.6h1.1M451.4 134.1h1.1M455.1 130.8h1.1M462.7 136.8h1.1M463.4 142.0h1.1M452.4 136.0h1.1M457.9 133.7h1.1M453.0 145.9h1.1M460.1 134.0h1.1M461.4 136.5h1.1M449.6 136.7h1.1M456.6 140.4h1.1M459.9 130.8h1.1M464.0 135.7h1.1M456.2 137.6h1.1M460.8 136.9h1.1M445.8 149.3h1.1M459.3 131.4h1.1M468.2 134.3h1.1M453.8 141.5h1.1M447.9 149.8h1.1M463.4 143.0h1.1M463.4 133.8h1.1M452.4 136.6h1.1M458.1 126.7h1.1M456.4 131.5h1.1M458.6 138.9h1.1M457.2 131.4h1.1M461.4 131.2h1.1M457.0 135.5h1.1M452.7 145.0h1.1M449.5 144.8h1.1M447.9 146.0h1.1M448.0 142.6h1.1M461.1 130.2h1.1M456.9 129.9h1.1M450.4 141.5h1.1M464.6 135.3h1.1M450.3 141.0h1.1M457.5 134.8h1.1M454.3 133.1h1.1M454.7 141.8h1.1M453.1 136.3h1.1M453.9 141.5h1.1M459.1 141.7h1.1M458.8 131.4h1.1M455.4 145.3h1.1M459.4 135.1h1.1M448.7 140.2h1.1M467.5 133.4h1.1M447.0 138.3h1.1M451.4 145.3h1.1M454.4 138.8h1.1M454.2 138.7h1.1M455.3 139.4h1.1M454.5 133.6h1.1M448.6 144.3h1.1M461.4 128.8h1.1M455.4 143.4h1.1M457.1 142.1h1.1M451.4 139.4h1.1M456.5 140.9h1.1M459.5 130.1h1.1M454.8 136.9h1.1M459.6 136.4h1.1M471.7 128.0h1.1M461.4 131.5h1.1M458.2 133.8h1.1M446.1 139.5h1.1M461.7 135.3h1.1M461.3 133.3h1.1M455.8 137.1h1.1M447.6 143.4h1.1M455.1 138.4h1.1M453.8 142.9h1.1M463.1 133.4h1.1M457.9 135.1h1.1M457.0 135.4h1.1M453.5 142.2h1.1M451.5 139.1h1.1M457.6 131.1h1.1M457.9 130.9h1.1M462.0 129.6h1.1M461.7 140.3h1.1M458.5 139.6h1.1M457.9 133.0h1.1M454.1 144.0h1.1M458.8 141.9h1.1M457.0 143.3h1.1M459.2 132.1h1.1M451.9 144.9h1.1M448.6 135.5h1.1M455.3 136.8h1.1M460.0 137.2h1.1M458.4 141.1h1.1M458.0 136.2h1.1M453.7 137.5h1.1M452.3 144.3h1.1M450.6 131.1h1.1M460.2 129.4h1.1M457.1 139.0h1.1M456.5 138.2h1.1M452.6 131.5h1.1M457.2 134.4h1.1M459.6 140.3h1.1M445.0 139.9h1.1M459.7 131.8h1.1M466.2 131.3h1.1M448.9 137.4h1.1M457.1 143.6h1.1M457.8 135.9h1.1M454.3 138.3h1.1M449.2 149.0h1.1M468.6 130.9h1.1M454.1 143.5h1.1M461.8 130.1h1.1M459.9 144.3h1.1M453.0 138.6h1.1M450.7 143.8h1.1M455.4 137.0h1.1M457.9 137.0h1.1M463.1 131.2h1.1M459.3 139.7h1.1M455.6 137.6h1.1M459.8 140.1h1.1M450.5 138.4h1.1M458.5 132.9h1.1M465.1 135.3h1.1M455.6 136.0h1.1M455.8 132.8h1.1M455.7 135.0h1.1M453.6 139.0h1.1M462.7 128.8h1.1M451.3 140.6h1.1M458.3 131.9h1.1M459.0 131.5h1.1M450.0 139.9h1.1M462.6 136.3h1.1M452.6 147.7h1.1M461.8 134.3h1.1M451.4 147.0h1.1M462.7 132.1h1.1M459.9 139.1h1.1M448.0 145.8h1.1M449.1 142.0h1.1M454.9 143.9h1.1M453.9 141.3h1.1M456.3 143.9h1.1M452.5 138.1h1.1M458.0 139.1h1.1M450.5 142.5h1.1M451.1 135.4h1.1M450.3 132.0h1.1M469.3 124.5h1.1M456.4 135.4h1.1M451.2 140.6h1.1M458.4 137.1h1.1M464.3 132.3h1.1M460.5 132.8h1.1M458.7 142.8h1.1M462.9 135.2h1.1M450.4 146.0h1.1M453.4 131.5h1.1M461.8 134.8h1.1M450.6 136.2h1.1M462.5 129.1h1.1M456.1 138.0h1.1M462.4 142.8h1.1M452.4 143.2h1.1M455.0 136.1h1.1M460.0 139.3h1.1M458.1 135.9h1.1M455.6 144.9h1.1M457.6 139.1h1.1M455.0 137.0h1.1M457.8 134.0h1.1M454.0 138.0h1.1M456.0 141.2h1.1M469.3 125.0h1.1M465.5 131.5h1.1M452.5 142.8h1.1M462.2 132.0h1.1M453.0 141.5h1.1M455.4 135.1h1.1M457.1 137.5h1.1M459.1 141.2h1.1M457.6 139.5h1.1M456.8 140.7h1.1M463.5 139.5h1.1M460.4 129.8h1.1M465.2 131.4h1.1M444.3 150.9h1.1M464.0 129.2h1.1M451.6 136.0h1.1M446.9 143.1h1.1M455.8 137.9h1.1M466.3 125.5h1.1M461.0 127.6h1.1M465.1 133.1h1.1M452.4 139.9h1.1M463.5 128.2h1.1M468.8 133.0h1.1M465.0 129.8h1.1M462.1 132.0h1.1M461.3 144.7h1.1M455.4 143.1h1.1M453.9 141.2h1.1M453.5 133.8h1.1M456.3 136.6h1.1M457.0 139.8h1.1M458.3 144.9h1.1M447.9 145.8h1.1M454.8 139.9h1.1M454.4 143.2h1.1M460.8 135.9h1.1M463.3 132.6h1.1M457.8 134.7h1.1M462.4 136.3h1.1M460.7 138.1h1.1M457.4 138.3h1.1M452.6 142.8h1.1M457.0 145.5h1.1M452.9 134.1h1.1M446.9 139.7h1.1M463.2 135.6h1.1M454.6 137.1h1.1M460.6 140.6h1.1M453.2 136.7h1.1M446.6 134.7h1.1M454.0 138.9h1.1M457.1 132.3h1.1M464.4 139.7h1.1M455.1 137.7h1.1M455.1 139.9h1.1M460.8 141.1h1.1M452.3 144.1h1.1M457.3 140.9h1.1M448.1 141.0h1.1M455.3 142.8h1.1M462.2 135.2h1.1M457.7 136.9h1.1M450.3 141.9h1.1M454.9 143.3h1.1M454.7 134.5h1.1M449.8 142.2h1.1M456.2 137.3h1.1M463.3 130.8h1.1M460.0 139.4h1.1M462.0 132.8h1.1M458.0 139.2h1.1M466.4 134.0h1.1M455.5 135.9h1.1M454.8 135.9h1.1M463.0 133.5h1.1M454.6 140.7h1.1M460.1 144.6h1.1M458.1 143.8h1.1M457.0 136.8h1.1M456.2 140.2h1.1M462.0 125.2h1.1M446.5 140.5h1.1M460.9 137.1h1.1M454.0 143.3h1.1M457.4 138.2h1.1M468.8 139.5h1.1M456.7 144.1h1.1M446.6 149.5h1.1M457.6 133.9h1.1M461.9 131.1h1.1M456.6 138.3h1.1M451.9 138.9h1.1M451.2 137.8h1.1M460.9 139.7h1.1M454.2 140.9h1.1M444.4 142.4h1.1M451.3 139.0h1.1M454.6 136.9h1.1M456.6 138.9h1.1M456.9 136.6h1.1M458.3 132.8h1.1M465.5 131.1h1.1M444.4 137.1h1.1M463.2 138.8h1.1M458.2 141.5h1.1M458.7 141.3h1.1M446.8 143.6h1.1M459.7 133.2h1.1M447.1 147.9h1.1M453.6 139.0h1.1M466.0 127.9h1.1M456.1 141.4h1.1M458.6 132.7h1.1M453.6 142.5h1.1M450.2 139.8h1.1M461.5 137.9h1.1M461.0 136.5h1.1M450.3 135.8h1.1M450.4 140.4h1.1M454.2 140.2h1.1M454.6 136.9h1.1M450.9 140.5h1.1M467.9 139.0h1.1M457.1 144.5h1.1M453.7 139.0h1.1M453.2 141.9h1.1M449.7 143.2h1.1M458.1 135.0h1.1M450.1 137.8h1.1M462.3 140.3h1.1M457.9 139.7h1.1M473.3 129.3h1.1M460.5 134.6h1.1M473.4 134.7h1.1M451.2 151.5h1.1M461.5 141.4h1.1M456.4 130.7h1.1M456.7 147.9h1.1M457.6 135.3h1.1M446.8 133.7h1.1M467.0 133.8h1.1M457.3 140.7h1.1M454.8 137.4h1.1M466.3 126.6h1.1M456.0 139.1h1.1M450.5 142.4h1.1M459.3 136.6h1.1M452.1 140.8h1.1M452.1 146.1h1.1M467.6 146.4h1.1M457.8 133.6h1.1M450.9 145.8h1.1M463.1 135.2h1.1M451.5 148.1h1.1M457.3 140.8h1.1M462.8 133.8h1.1M460.8 137.1h1.1M450.7 144.1h1.1M451.5 136.9h1.1M453.5 144.1h1.1M448.2 147.5h1.1M460.7 135.6h1.1M468.5 127.7h1.1M449.7 140.0h1.1M449.9 147.2h1.1M454.1 141.0h1.1M462.0 139.6h1.1M459.3 134.5h1.1M450.0 137.3h1.1M461.3 130.9h1.1M454.7 142.6h1.1M456.0 134.2h1.1M470.6 128.3h1.1M459.0 136.2h1.1M458.5 137.7h1.1M462.0 137.0h1.1M455.4 138.2h1.1M459.3 139.6h1.1M456.8 146.4h1.1M451.7 143.8h1.1M448.3 142.2h1.1M459.2 134.7h1.1M453.4 147.3h1.1M461.7 139.5h1.1M466.6 125.3h1.1M462.0 135.5h1.1M457.3 143.7h1.1M460.5 138.0h1.1M465.3 132.8h1.1M451.3 138.5h1.1M463.4 133.4h1.1M445.9 142.7h1.1M455.5 147.6h1.1M463.2 134.6h1.1M450.8 144.0h1.1M463.7 131.2h1.1M455.3 140.9h1.1M457.6 135.4h1.1M457.2 139.4h1.1M453.2 144.2h1.1M458.5 132.0h1.1M457.8 139.4h1.1M458.0 130.1h1.1M449.0 143.9h1.1M445.9 150.9h1.1M456.7 138.5h1.1M455.8 137.6h1.1M452.2 135.8h1.1M463.7 139.7h1.1M454.5 132.8h1.1M450.7 148.2h1.1M447.6 142.2h1.1M449.7 137.9h1.1M456.6 139.0h1.1M457.0 140.7h1.1M458.5 137.8h1.1M447.7 151.8h1.1M460.2 133.7h1.1M455.0 138.4h1.1M457.3 137.0h1.1M462.0 130.3h1.1M458.5 135.1h1.1M451.6 138.7h1.1M453.5 139.0h1.1M462.3 131.5h1.1M457.8 137.9h1.1M456.5 130.9h1.1M457.7 139.3h1.1M468.7 132.5h1.1M471.0 125.8h1.1M450.9 134.7h1.1M458.2 140.0h1.1M456.6 140.9h1.1M457.8 147.0h1.1M465.8 125.0h1.1M466.9 131.3h1.1M451.8 146.2h1.1M449.8 138.8h1.1M459.9 131.5h1.1M456.8 136.1h1.1M463.3 132.7h1.1M456.0 142.3h1.1M466.2 131.9h1.1M447.8 142.4h1.1M457.4 134.1h1.1M453.9 139.0h1.1M460.8 141.5h1.1M457.3 131.0h1.1M451.1 135.3h1.1M457.2 141.3h1.1M452.2 137.8h1.1M465.7 129.9h1.1M446.8 141.6h1.1M457.9 141.3h1.1M465.2 137.7h1.1M449.1 141.1h1.1M445.1 139.6h1.1M458.2 135.9h1.1M449.4 148.0h1.1M449.4 152.7h1.1M460.1 140.3h1.1M453.8 138.1h1.1M462.5 135.9h1.1M449.7 138.7h1.1M461.8 135.1h1.1M455.6 141.7h1.1M454.8 146.1h1.1M464.5 134.9h1.1M464.3 133.6h1.1M454.7 144.6h1.1M454.7 139.7h1.1M459.6 140.5h1.1M459.3 135.7h1.1M458.7 140.9h1.1M450.2 135.3h1.1M465.4 132.3h1.1M460.3 138.4h1.1M443.6 137.6h1.1M453.7 144.7h1.1M454.6 141.7h1.1M463.8 135.5h1.1M463.1 134.0h1.1M451.5 141.4h1.1M462.3 131.0h1.1M456.0 131.2h1.1M458.8 130.9h1.1M462.1 137.2h1.1M452.0 140.9h1.1M450.5 140.8h1.1M462.9 130.9h1.1M450.9 138.7h1.1M464.9 140.5h1.1M460.3 132.2h1.1M458.1 140.6h1.1M461.3 132.3h1.1M460.0 131.1h1.1M463.5 125.1h1.1M461.7 139.7h1.1M458.2 138.6h1.1M458.9 138.2h1.1M453.5 144.4h1.1M458.9 135.8h1.1M452.3 139.7h1.1M457.2 137.3h1.1M458.8 133.9h1.1M459.2 138.2h1.1M445.8 137.9h1.1M462.5 133.6h1.1M456.0 133.9h1.1M456.0 144.0h1.1M458.2 138.9h1.1M464.0 129.4h1.1M459.4 141.7h1.1M450.3 132.1h1.1M460.0 134.1h1.1M464.5 136.8h1.1M455.5 137.1h1.1M448.2 140.9h1.1M455.7 140.0h1.1M452.5 143.1h1.1M466.4 132.7h1.1M461.5 136.6h1.1M454.2 136.8h1.1M447.7 148.5h1.1M454.9 141.4h1.1M459.5 128.7h1.1M459.0 135.4h1.1M457.6 141.1h1.1M444.7 155.3h1.1M457.8 140.0h1.1M456.4 143.1h1.1M465.3 136.5h1.1M451.7 134.5h1.1M457.8 135.0h1.1M464.1 134.5h1.1M456.6 143.6h1.1M452.7 145.1h1.1M454.8 143.2h1.1M458.0 134.3h1.1M462.7 125.1h1.1M458.5 131.8h1.1M455.9 142.9h1.1M470.0 130.8h1.1M456.7 141.0h1.1M458.8 135.1h1.1M455.8 138.4h1.1M462.8 133.7h1.1M449.6 136.9h1.1M455.4 135.4h1.1M461.7 133.8h1.1M455.9 137.5h1.1M457.2 136.3h1.1M461.1 139.2h1.1M452.0 146.6h1.1M462.7 140.7h1.1M451.2 141.7h1.1M454.5 139.7h1.1M452.8 138.5h1.1M459.2 143.6h1.1M459.4 133.1h1.1M451.1 137.5h1.1M460.0 133.7h1.1M457.4 139.0h1.1M455.9 141.3h1.1M454.2 140.0h1.1M457.5 137.5h1.1M461.2 140.1h1.1M455.1 143.8h1.1M456.6 135.6h1.1M452.2 135.9h1.1M453.0 134.1h1.1M459.0 141.6h1.1M458.7 141.6h1.1M452.9 142.7h1.1M467.7 132.0h1.1M456.3 128.4h1.1M458.0 144.6h1.1M451.9 137.6h1.1M456.0 141.2h1.1M460.7 129.1h1.1M449.1 140.7h1.1M460.1 132.1h1.1M456.0 141.3h1.1M456.6 141.6h1.1M451.8 144.4h1.1M456.8 131.5h1.1M463.8 131.4h1.1M459.0 133.9h1.1M455.2 141.8h1.1M451.4 150.4h1.1M452.8 136.8h1.1M463.9 140.6h1.1M450.8 144.3h1.1M456.4 135.0h1.1M453.6 142.8h1.1M448.5 141.9h1.1M450.6 144.2h1.1M463.1 131.3h1.1M456.3 140.5h1.1M451.8 146.8h1.1M457.3 144.3h1.1M447.9 150.1h1.1M449.9 146.2h1.1M452.3 149.6h1.1M459.1 137.0h1.1M457.1 127.8h1.1M449.6 137.9h1.1M460.9 130.6h1.1M454.4 144.4h1.1M464.6 133.2h1.1M456.2 130.8h1.1M460.9 138.2h1.1M455.0 139.7h1.1M442.6 149.8h1.1M457.1 138.5h1.1M453.8 140.8h1.1M455.1 135.2h1.1M453.9 128.9h1.1M456.8 135.3h1.1M453.0 137.2h1.1M460.8 136.8h1.1M459.5 141.7h1.1M449.4 137.9h1.1M457.8 133.4h1.1M454.9 141.2h1.1M454.4 143.1h1.1M462.2 134.1h1.1M450.3 134.5h1.1M459.9 140.8h1.1M450.2 144.0h1.1M455.8 134.1h1.1M470.6 131.9h1.1M461.4 139.4h1.1M457.6 135.2h1.1M453.4 143.5h1.1M459.6 133.8h1.1M448.3 145.4h1.1M449.1 141.6h1.1M457.4 138.9h1.1M463.0 126.1h1.1M456.9 131.5h1.1M452.1 139.1h1.1M446.6 145.2h1.1M459.9 137.6h1.1M446.2 146.5h1.1M447.9 147.2h1.1M456.6 140.3h1.1M451.4 135.0h1.1M449.8 147.9h1.1M455.4 146.6h1.1M461.7 142.9h1.1M452.5 139.6h1.1M456.4 136.7h1.1M460.9 136.6h1.1M468.9 138.1h1.1M466.5 132.4h1.1M458.6 133.5h1.1M458.7 140.5h1.1M452.2 136.0h1.1M470.1 128.8h1.1M457.2 139.8h1.1M453.7 137.6h1.1M458.7 149.1h1.1M462.7 128.8h1.1M460.6 137.4h1.1M454.1 143.8h1.1M445.7 147.2h1.1M451.3 141.4h1.1M453.5 138.7h1.1M453.2 135.5h1.1M451.6 144.5h1.1M457.1 143.5h1.1M461.6 138.8h1.1M461.2 130.0h1.1M457.0 131.4h1.1M461.1 138.5h1.1M463.3 123.6h1.1M456.8 138.8h1.1M461.4 135.0h1.1M449.1 143.8h1.1M455.4 147.4h1.1M451.1 137.3h1.1M452.4 141.4h1.1M449.3 146.0h1.1M451.2 140.3h1.1M456.4 140.5h1.1M450.1 144.4h1.1M462.0 135.2h1.1M452.4 136.3h1.1M460.2 134.4h1.1M454.0 137.2h1.1M451.1 137.6h1.1M456.0 139.4h1.1M449.0 131.1h1.1M454.1 141.8h1.1M462.5 140.3h1.1M454.2 138.4h1.1M467.1 131.2h1.1M460.2 127.5h1.1M452.8 139.7h1.1M462.7 133.2h1.1M460.1 138.7h1.1M450.8 132.7h1.1M460.3 128.6h1.1M444.7 138.4h1.1M452.1 135.5h1.1M460.3 140.9h1.1M462.1 135.6h1.1M455.1 143.6h1.1M461.5 142.8h1.1M462.2 141.7h1.1M451.0 138.2h1.1M463.6 137.1h1.1M462.4 134.5h1.1M456.3 143.0h1.1M463.6 133.6h1.1M452.1 138.7h1.1M460.6 139.8h1.1M456.1 132.5h1.1M456.4 137.7h1.1M463.2 134.4h1.1M451.4 142.1h1.1M456.3 138.0h1.1M449.3 137.5h1.1M467.4 128.8h1.1M459.8 124.5h1.1M453.7 137.1h1.1M458.0 134.7h1.1M461.8 134.4h1.1M455.1 139.2h1.1M449.2 150.6h1.1M454.1 142.2h1.1M456.1 140.3h1.1M450.6 140.4h1.1M453.7 139.7h1.1M455.8 139.0h1.1M453.9 139.7h1.1M459.8 134.9h1.1M458.2 131.5h1.1M448.2 140.6h1.1M450.8 143.9h1.1M461.7 136.0h1.1M460.8 137.2h1.1M459.4 130.4h1.1M453.6 140.7h1.1M461.7 135.9h1.1M459.0 131.4h1.1M456.6 136.3h1.1M458.1 138.7h1.1M463.4 136.3h1.1M448.3 149.6h1.1M459.7 137.5h1.1M462.0 140.9h1.1M462.6 136.5h1.1M462.0 133.4h1.1M457.6 139.5h1.1M450.2 137.0h1.1M455.2 144.3h1.1M458.1 130.1h1.1M452.2 145.7h1.1M453.6 142.0h1.1M457.8 144.4h1.1M458.2 133.7h1.1M451.0 142.7h1.1M456.5 143.0h1.1M458.2 140.8h1.1M455.7 132.2h1.1M458.9 142.1h1.1M461.2 130.8h1.1M455.4 140.3h1.1M456.8 135.0h1.1M458.5 133.1h1.1M451.4 139.7h1.1M454.0 132.6h1.1M453.6 137.1h1.1M457.7 143.5h1.1M452.5 136.2h1.1M464.0 136.0h1.1M451.9 146.1h1.1M457.0 138.4h1.1M465.0 133.4h1.1M471.8 121.9h1.1M461.0 130.9h1.1M466.3 127.9h1.1M465.1 134.3h1.1M467.6 121.4h1.1M456.7 141.5h1.1M462.1 134.5h1.1M460.9 136.5h1.1M466.2 128.7h1.1M458.2 130.5h1.1M472.1 125.1h1.1M470.3 126.2h1.1M468.0 137.9h1.1M457.9 135.4h1.1M468.9 130.2h1.1M458.6 134.3h1.1M461.3 134.6h1.1M472.1 127.4h1.1M473.4 123.4h1.1M472.6 120.1h1.1M464.1 134.8h1.1M464.0 129.8h1.1M462.7 135.6h1.1M460.3 133.5h1.1M462.8 135.7h1.1M471.3 122.5h1.1M468.9 126.2h1.1M462.9 126.7h1.1M457.6 134.3h1.1M463.8 131.8h1.1M466.8 128.1h1.1M465.2 132.4h1.1M462.9 134.7h1.1M461.3 132.3h1.1M464.1 135.9h1.1M458.8 131.8h1.1M459.2 130.4h1.1M457.4 135.5h1.1M464.6 127.8h1.1M459.0 133.7h1.1M468.3 127.1h1.1M467.4 121.7h1.1M473.3 128.1h1.1M466.9 134.9h1.1M465.9 128.8h1.1M469.6 122.6h1.1M462.6 132.0h1.1M460.7 132.7h1.1M467.9 130.8h1.1M461.5 134.9h1.1M465.8 127.8h1.1M459.0 137.5h1.1M468.6 127.7h1.1M457.4 135.8h1.1M465.1 130.3h1.1M470.4 127.4h1.1M468.4 129.9h1.1M462.2 133.3h1.1M461.2 129.5h1.1M469.2 129.4h1.1M464.6 126.2h1.1M458.6 137.4h1.1M461.6 131.5h1.1M462.6 130.9h1.1M472.1 129.3h1.1M460.1 132.8h1.1M462.8 129.6h1.1M469.6 129.7h1.1M463.7 129.0h1.1M463.8 130.4h1.1M464.2 131.6h1.1M470.6 127.5h1.1M472.0 130.2h1.1M461.7 134.6h1.1M458.9 130.3h1.1M467.8 130.2h1.1M464.4 133.5h1.1M461.5 127.7h1.1M470.0 123.4h1.1M466.4 130.4h1.1M467.9 126.4h1.1M468.3 122.1h1.1M462.7 127.4h1.1M472.1 132.6h1.1M466.1 123.7h1.1M469.5 123.1h1.1M466.0 130.7h1.1M454.8 138.3h1.1M467.2 136.0h1.1M463.7 131.0h1.1M466.9 133.9h1.1M460.4 130.1h1.1M463.0 123.9h1.1M466.2 128.9h1.1M469.8 126.5h1.1M463.8 129.9h1.1M464.9 127.4h1.1M468.1 130.0h1.1M468.3 126.2h1.1M457.8 131.3h1.1M462.2 134.5h1.1M466.7 125.3h1.1M465.5 125.3h1.1M465.5 135.3h1.1M469.2 133.4h1.1M464.6 129.7h1.1M462.3 129.9h1.1M465.2 130.2h1.1M467.8 132.2h1.1M456.2 130.8h1.1M467.3 123.8h1.1M457.6 130.8h1.1M462.5 138.0h1.1M464.6 130.2h1.1M460.2 131.0h1.1M467.4 133.1h1.1M462.7 135.9h1.1M466.3 125.6h1.1M463.8 132.8h1.1M464.6 133.7h1.1M460.5 130.8h1.1M461.5 135.4h1.1M460.0 133.0h1.1M471.2 126.7h1.1M468.4 124.8h1.1M459.2 134.0h1.1M468.1 129.3h1.1M463.4 125.7h1.1M467.3 125.1h1.1M461.1 134.3h1.1M472.0 130.2h1.1M464.9 128.0h1.1M466.8 130.1h1.1M464.4 132.7h1.1M474.8 119.2h1.1M460.6 134.7h1.1M460.0 137.7h1.1M466.5 129.5h1.1M469.3 136.1h1.1M463.2 129.6h1.1M461.9 127.5h1.1M458.7 137.9h1.1M456.5 131.9h1.1M466.3 131.4h1.1M468.2 125.2h1.1M458.7 127.3h1.1M463.0 131.4h1.1M473.6 126.6h1.1M461.0 129.7h1.1M452.2 139.9h1.1M463.6 129.8h1.1M466.0 132.5h1.1M460.3 130.4h1.1M467.9 123.6h1.1M463.7 125.1h1.1M453.0 137.7h1.1M458.9 133.5h1.1M456.8 132.2h1.1M467.9 129.7h1.1M467.8 129.8h1.1M463.8 133.3h1.1M467.0 133.4h1.1M458.6 137.5h1.1M466.8 135.0h1.1M462.1 133.6h1.1M458.1 136.3h1.1M462.0 128.1h1.1M463.7 135.8h1.1M463.7 127.4h1.1M464.1 131.7h1.1M461.6 129.4h1.1M462.6 128.2h1.1M464.6 135.2h1.1M467.0 125.4h1.1M464.5 135.1h1.1M465.9 126.8h1.1M465.2 131.5h1.1M456.7 131.6h1.1M459.8 128.3h1.1M462.6 137.0h1.1M465.6 130.3h1.1M458.3 132.6h1.1M458.9 131.7h1.1M458.0 134.5h1.1M467.3 131.5h1.1M466.5 138.8h1.1M461.3 134.6h1.1M454.9 136.9h1.1M470.4 125.2h1.1M470.2 130.4h1.1M468.0 125.1h1.1M466.2 126.9h1.1M469.0 126.7h1.1M463.6 132.6h1.1M469.2 135.1h1.1M464.4 126.3h1.1M467.0 126.8h1.1M466.4 131.5h1.1M463.8 133.6h1.1M455.9 146.2h1.1M461.7 127.5h1.1M458.6 131.2h1.1M461.1 136.0h1.1M457.6 136.8h1.1M458.9 130.5h1.1M467.9 132.0h1.1M464.1 129.2h1.1M459.7 135.5h1.1M459.8 133.0h1.1M463.9 124.8h1.1M463.0 133.5h1.1M467.7 135.3h1.1M468.7 124.4h1.1M468.3 126.9h1.1M461.4 135.5h1.1M452.5 137.1h1.1M462.6 131.5h1.1M467.1 131.4h1.1M466.8 121.9h1.1M466.8 125.5h1.1M468.4 130.9h1.1M461.2 127.9h1.1M460.2 128.0h1.1M461.3 130.2h1.1M460.5 134.7h1.1M465.0 132.7h1.1M473.1 119.1h1.1M471.1 135.4h1.1M463.2 128.1h1.1M454.0 133.7h1.1M455.1 138.8h1.1M467.7 130.7h1.1M463.5 128.9h1.1M466.6 128.0h1.1M465.8 127.0h1.1M460.7 127.5h1.1M465.4 128.8h1.1M461.1 127.1h1.1M465.6 128.5h1.1M469.1 125.3h1.1M461.7 137.1h1.1M465.2 122.8h1.1M464.3 129.0h1.1M461.8 127.8h1.1M473.2 125.5h1.1M463.6 128.3h1.1M468.9 124.1h1.1M464.3 131.3h1.1M463.4 132.9h1.1M475.3 127.0h1.1M467.6 127.5h1.1M471.3 131.8h1.1M461.9 136.4h1.1M469.4 129.4h1.1M466.4 129.4h1.1M458.9 133.1h1.1M460.0 142.3h1.1M462.5 132.1h1.1M472.6 131.9h1.1M461.5 134.2h1.1M451.6 141.2h1.1M456.2 131.4h1.1M454.0 131.8h1.1M457.0 132.6h1.1M460.5 128.6h1.1M469.1 129.4h1.1M457.6 132.9h1.1M468.8 130.5h1.1M456.4 124.8h1.1M462.5 133.5h1.1M468.5 124.8h1.1M457.2 131.3h1.1M464.7 128.2h1.1M461.1 134.4h1.1M459.2 132.0h1.1M460.7 131.3h1.1M464.2 135.9h1.1M458.8 137.0h1.1M460.4 134.0h1.1M458.0 133.5h1.1M464.9 128.3h1.1M467.5 131.0h1.1M474.7 120.7h1.1M463.7 131.7h1.1M465.0 130.1h1.1M470.5 120.3h1.1M466.4 133.2h1.1M462.9 128.1h1.1M472.0 122.8h1.1M466.3 132.9h1.1M462.5 127.4h1.1M470.8 128.8h1.1M470.2 125.9h1.1M466.2 131.3h1.1M465.1 124.8h1.1M456.2 135.5h1.1M464.0 139.7h1.1M467.7 130.6h1.1M456.9 132.2h1.1M462.5 134.2h1.1M467.6 126.0h1.1M464.1 134.6h1.1M469.7 124.7h1.1M463.3 128.1h1.1M472.2 118.8h1.1M463.0 127.9h1.1M456.9 136.5h1.1M459.3 137.2h1.1M467.5 128.2h1.1M459.4 128.5h1.1M469.0 129.6h1.1M466.3 134.1h1.1M465.8 124.3h1.1M459.2 133.4h1.1M464.9 131.6h1.1M471.0 119.7h1.1M468.4 131.5h1.1M464.5 131.8h1.1M465.8 126.3h1.1M463.5 132.3h1.1M458.3 136.2h1.1M457.6 131.1h1.1M452.9 132.1h1.1M464.3 132.6h1.1M469.2 136.4h1.1M455.7 141.9h1.1M466.2 135.1h1.1M467.7 129.0h1.1M458.7 136.3h1.1M474.5 124.7h1.1M461.5 129.8h1.1M469.5 126.9h1.1M459.3 135.1h1.1M461.6 132.1h1.1M462.9 127.0h1.1M465.0 132.0h1.1M455.1 127.3h1.1M456.6 139.5h1.1M468.1 124.6h1.1M465.1 132.9h1.1M468.2 124.3h1.1M465.3 126.4h1.1M462.6 131.3h1.1M464.1 128.5h1.1M466.1 131.3h1.1M456.9 135.6h1.1M468.6 125.7h1.1M468.2 131.1h1.1M465.3 130.1h1.1M479.7 121.4h1.1M466.0 145.0h1.1M474.9 124.7h1.1M460.9 140.4h1.1M467.0 139.6h1.1M455.4 135.0h1.1M450.2 144.5h1.1M464.6 132.5h1.1M455.8 145.1h1.1M457.4 147.4h1.1M451.2 140.7h1.1M469.5 129.0h1.1M471.1 135.9h1.1M446.4 147.3h1.1M457.8 136.7h1.1M455.3 143.2h1.1M449.6 124.7h1.1M447.6 138.4h1.1M450.9 159.8h1.1M456.2 138.7h1.1M455.4 133.4h1.1M461.3 122.6h1.1M444.7 150.5h1.1M476.8 122.7h1.1M471.8 134.0h1.1M451.5 134.9h1.1M444.8 144.0h1.1M465.2 125.9h1.1M458.1 130.4h1.1M466.1 133.9h1.1M445.5 144.4h1.1M452.3 138.3h1.1M462.7 131.0h1.1M453.6 141.7h1.1M475.8 130.6h1.1M461.0 130.8h1.1M459.7 140.7h1.1M472.3 120.3h1.1M475.5 129.4h1.1M470.7 132.8h1.1M471.5 128.6h1.1M445.2 146.3h1.1M454.0 131.6h1.1M464.0 131.3h1.1M452.9 122.4h1.1M466.7 124.8h1.1M452.5 146.8h1.1M460.1 126.8h1.1M469.0 130.7h1.1M468.6 107.5h1.1M472.7 123.1h1.1M448.7 152.8h1.1M460.2 128.6h1.1M447.5 136.0h1.1M463.9 144.9h1.1M469.4 133.8h1.1M447.0 139.9h1.1M468.8 143.0h1.1M468.6 135.7h1.1M467.0 128.9h1.1M466.4 134.7h1.1M452.4 139.9h1.1M465.1 139.1h1.1M458.4 140.4h1.1M482.7 123.0h1.1M450.4 135.7h1.1M450.0 142.5h1.1M460.1 134.3h1.1M468.8 131.1h1.1M463.7 148.9h1.1M469.0 126.9h1.1M451.3 141.9h1.1M465.3 131.9h1.1M453.6 150.3h1.1M452.8 142.1h1.1M459.3 135.1h1.1M452.7 149.3h1.1M464.6 117.1h1.1M463.0 123.9h1.1M454.3 140.2h1.1M467.4 139.0h1.1M480.8 122.5h1.1M463.4 140.5h1.1M458.0 145.0h1.1M454.8 143.1h1.1M465.4 131.6h1.1M461.4 148.8h1.1M455.6 124.1h1.1M450.7 146.4h1.1M471.9 129.3h1.1M464.2 131.7h1.1M470.5 130.3h1.1M466.1 134.7h1.1M459.7 132.4h1.1M467.1 140.7h1.1M456.4 132.7h1.1M453.1 140.6h1.1M452.4 134.0h1.1M471.2 113.3h1.1M448.2 138.7h1.1M460.9 143.0h1.1M453.7 129.5h1.1M459.3 145.1h1.1M452.8 141.5h1.1M451.3 132.5h1.1M454.5 134.6h1.1M447.7 138.5h1.1M449.1 142.0h1.1M449.2 135.6h1.1M458.0 139.6h1.1M466.0 115.5h1.1M468.9 116.4h1.1M452.1 142.8h1.1M466.9 144.3h1.1M465.0 125.2h1.1M448.1 142.8h1.1M444.8 150.1h1.1M465.9 123.1h1.1M451.7 146.8h1.1M470.8 133.2h1.1M468.9 129.5h1.1M463.7 129.8h1.1M466.9 129.6h1.1M457.3 146.1h1.1M469.9 115.2h1.1M476.6 135.0h1.1M463.4 129.1h1.1M448.7 139.2h1.1M481.0 124.8h1.1M450.7 143.3h1.1M455.3 126.3h1.1M471.6 136.4h1.1M445.2 141.3h1.1M463.3 134.3h1.1M458.8 145.1h1.1M443.7 146.3h1.1M457.2 141.2h1.1M446.9 136.9h1.1M456.8 145.4h1.1M452.2 133.7h1.1M465.6 131.0h1.1M460.7 136.6h1.1M453.5 139.6h1.1M458.7 143.2h1.1M459.4 136.6h1.1M449.9 149.0h1.1M452.7 136.5h1.1M453.1 151.0h1.1M444.6 137.3h1.1M467.2 126.0h1.1M460.4 132.9h1.1M464.7 123.9h1.1M462.6 135.9h1.1M451.2 135.6h1.1M463.0 136.5h1.1M447.6 150.5h1.1M462.8 132.2h1.1M488.0 132.6h1.1M459.0 140.8h1.1M474.3 130.6h1.1M460.8 131.3h1.1M456.1 129.7h1.1M458.8 122.8h1.1M470.8 126.5h1.1M437.4 145.7h1.1M462.3 132.2h1.1M452.6 145.5h1.1M466.4 138.9h1.1M458.3 144.4h1.1M455.5 138.1h1.1M457.8 141.5h1.1M456.0 130.8h1.1M459.2 136.2h1.1M455.6 142.6h1.1M449.6 141.0h1.1M471.7 121.4h1.1M440.1 156.1h1.1M460.8 132.9h1.1M443.4 150.1h1.1M446.3 144.4h1.1M442.9 135.9h1.1M451.2 149.3h1.1M441.2 133.8h1.1M438.3 143.8h1.1M464.4 129.8h1.1M461.4 139.6h1.1M467.4 135.3h1.1M472.1 140.5h1.1M442.3 145.1h1.1M464.4 142.9h1.1M460.3 141.4h1.1M452.1 145.8h1.1M477.9 129.9h1.1M460.8 135.2h1.1M458.7 130.8h1.1M450.9 144.8h1.1M453.1 144.1h1.1M458.9 137.6h1.1M457.8 140.3h1.1M462.7 143.2h1.1M458.3 141.5h1.1M467.8 123.0h1.1M458.0 131.8h1.1M458.7 140.4h1.1M458.1 137.2h1.1M456.9 128.5h1.1M461.1 136.5h1.1M455.2 141.9h1.1M452.8 144.7h1.1M451.0 144.0h1.1M459.8 135.6h1.1M468.2 135.4h1.1M461.0 140.7h1.1M468.7 130.5h1.1M457.2 140.5h1.1M459.4 137.6h1.1M460.5 135.6h1.1M453.5 151.1h1.1M470.2 142.2h1.1M475.9 126.2h1.1M468.0 128.6h1.1M453.5 138.9h1.1M474.0 126.3h1.1M453.4 150.4h1.1M456.1 139.8h1.1M457.0 138.6h1.1M458.2 135.2h1.1M444.3 136.0h1.1M472.4 121.5h1.1M482.6 120.6h1.1M454.2 125.7h1.1M472.3 128.2h1.1M462.0 123.9h1.1M452.8 140.7h1.1M474.4 125.9h1.1M449.3 134.6h1.1M446.8 147.5h1.1M451.2 141.2h1.1M461.0 151.7h1.1M453.7 132.6h1.1M446.7 148.4h1.1M476.0 123.6h1.1M462.2 123.1h1.1M463.6 137.1h1.1M450.4 129.0h1.1M467.8 122.3h1.1M461.5 125.2h1.1M452.2 136.4h1.1M461.3 140.3h1.1M462.3 136.6h1.1M471.5 121.2h1.1M450.3 137.3h1.1M461.6 129.9h1.1M470.0 125.9h1.1M447.2 144.4h1.1M447.4 140.0h1.1M463.7 133.5h1.1M463.9 130.5h1.1M460.7 134.6h1.1M463.5 134.6h1.1M466.9 136.1h1.1M461.0 133.5h1.1M452.0 146.3h1.1M461.7 129.4h1.1M469.2 126.4h1.1M469.7 130.2h1.1M458.0 130.6h1.1M448.8 144.6h1.1M461.8 132.0h1.1M462.8 124.8h1.1M454.9 137.8h1.1M462.7 146.9h1.1M476.3 112.5h1.1M450.3 144.1h1.1M466.3 129.2h1.1M460.2 133.5h1.1M465.8 128.5h1.1M457.3 144.1h1.1M453.5 150.0h1.1M468.2 140.6h1.1M454.1 148.4h1.1M443.7 151.2h1.1M455.6 150.6h1.1M454.9 134.9h1.1M466.9 137.9h1.1M451.1 130.0h1.1M457.1 135.7h1.1M455.3 139.2h1.1M459.3 141.2h1.1M459.9 127.0h1.1M452.1 139.2h1.1M470.8 126.9h1.1M454.0 138.7h1.1M467.5 135.8h1.1M456.4 154.1h1.1M448.9 139.1h1.1M460.7 137.8h1.1M441.1 150.1h1.1M438.9 141.1h1.1M444.4 159.7h1.1M441.2 156.3h1.1M437.2 142.9h1.1M439.8 154.1h1.1M442.3 148.4h1.1M439.0 156.4h1.1M439.1 151.7h1.1M440.2 154.3h1.1M441.9 149.1h1.1M439.4 159.2h1.1M441.7 152.5h1.1M441.6 145.6h1.1M436.1 149.3h1.1M443.8 148.9h1.1M446.6 148.4h1.1M441.2 153.0h1.1M441.8 156.5h1.1M443.1 152.3h1.1M440.8 147.2h1.1M444.7 151.1h1.1M440.1 153.3h1.1M440.5 152.0h1.1M440.2 158.6h1.1M441.0 156.2h1.1M437.2 152.9h1.1M438.3 156.0h1.1M440.5 152.8h1.1M440.0 154.3h1.1M437.7 152.5h1.1M448.5 149.3h1.1M440.7 148.8h1.1M435.7 156.0h1.1M444.7 152.1h1.1M444.9 153.2h1.1M435.3 156.7h1.1M445.9 152.8h1.1M443.3 146.9h1.1M444.8 154.1h1.1M439.4 154.5h1.1M437.3 155.7h1.1M441.3 151.1h1.1M443.6 148.7h1.1M441.5 150.2h1.1M439.5 154.4h1.1M443.4 151.1h1.1M449.6 154.3h1.1M439.1 147.7h1.1M435.5 154.5h1.1M447.2 158.6h1.1M440.3 149.3h1.1M441.1 155.2h1.1M440.4 150.9h1.1M443.4 152.4h1.1M439.2 151.0h1.1M440.0 152.7h1.1M437.0 147.8h1.1M445.7 149.0h1.1M442.7 150.6h1.1M444.4 155.5h1.1M441.9 146.9h1.1M442.2 153.7h1.1M449.2 114.1h1.1M453.9 102.1h1.1M458.5 99.6h1.1M448.5 110.5h1.1M446.6 121.9h1.1M447.1 99.9h1.1M450.0 119.9h1.1M448.6 109.0h1.1M447.2 108.9h1.1M446.5 119.9h1.1M450.5 106.4h1.1M440.2 110.8h1.1M453.8 100.1h1.1M452.0 97.3h1.1M439.9 118.3h1.1M437.3 108.2h1.1M447.8 104.7h1.1M459.3 106.6h1.1M449.0 122.4h1.1M449.5 118.2h1.1M449.4 115.4h1.1M458.3 118.1h1.1M445.5 119.5h1.1M457.7 113.7h1.1M449.7 106.8h1.1M453.1 109.5h1.1M456.6 111.0h1.1M449.8 110.7h1.1M456.3 118.0h1.1M453.9 105.1h1.1M437.0 107.5h1.1M458.6 109.0h1.1M452.8 107.1h1.1M454.0 108.3h1.1M449.5 117.4h1.1M445.9 112.1h1.1M451.7 114.9h1.1M440.4 102.4h1.1M457.3 104.7h1.1M445.8 109.5h1.1M448.4 116.9h1.1M463.2 103.8h1.1M449.8 107.0h1.1M447.1 107.8h1.1M453.1 124.2h1.1M459.6 116.1h1.1M458.1 116.7h1.1M453.4 108.3h1.1M459.7 118.3h1.1M456.3 105.9h1.1M455.2 112.7h1.1M462.3 117.9h1.1M461.9 110.0h1.1M461.9 117.6h1.1M462.1 114.7h1.1M454.0 119.0h1.1M459.2 114.7h1.1M456.7 118.0h1.1M459.9 118.0h1.1M455.1 121.8h1.1M460.7 118.1h1.1M455.3 119.2h1.1M461.1 119.2h1.1M461.1 120.4h1.1M455.5 116.0h1.1M457.0 124.4h1.1M452.2 121.4h1.1M455.2 120.0h1.1M460.2 116.6h1.1M459.6 121.3h1.1M459.0 113.1h1.1M462.0 121.9h1.1M461.1 117.8h1.1M462.3 113.2h1.1M460.0 118.8h1.1M459.0 113.3h1.1M455.0 118.3h1.1M456.0 115.4h1.1M473.2 108.9h1.1M472.5 109.6h1.1M475.1 101.3h1.1M475.1 103.5h1.1M469.2 105.2h1.1M470.7 107.1h1.1M473.9 107.4h1.1M468.1 101.2h1.1M469.2 107.0h1.1M476.1 105.9h1.1M476.1 106.6h1.1M470.7 101.6h1.1M471.3 98.5h1.1M475.1 102.9h1.1M470.1 99.8h1.1M470.4 105.8h1.1M470.2 99.0h1.1M472.6 103.8h1.1M469.7 104.4h1.1M468.2 106.6h1.1M468.0 102.2h1.1M471.5 104.8h1.1M466.9 106.3h1.1M469.8 109.4h1.1M470.5 100.4h1.1M470.5 97.8h1.1M469.1 104.6h1.1M470.4 96.4h1.1M476.4 101.0h1.1M470.7 103.7h1.1M473.9 98.5h1.1M471.7 109.0h1.1M472.4 102.2h1.1M472.6 106.2h1.1M467.2 100.0h1.1M470.6 105.6h1.1M472.9 98.1h1.1M473.0 106.3h1.1M468.5 101.2h1.1M478.0 103.9h1.1M476.9 99.7h1.1M471.3 109.6h1.1M470.0 102.6h1.1M474.6 102.7h1.1M470.9 96.7h1.1M469.1 103.2h1.1M475.6 104.1h1.1M474.3 101.6h1.1M472.1 100.3h1.1M468.4 103.4h1.1M474.0 101.1h1.1M470.8 102.8h1.1M468.4 102.4h1.1M473.6 104.7h1.1M473.6 105.1h1.1M476.1 102.2h1.1M474.8 105.1h1.1M473.3 95.4h1.1M475.0 101.5h1.1M469.6 100.9h1.1M476.2 102.1h1.1M473.7 100.7h1.1M471.7 102.5h1.1M468.9 99.8h1.1M466.7 96.1h1.1M467.7 101.0h1.1M469.7 108.7h1.1M472.2 101.5h1.1M473.7 99.6h1.1M470.9 97.5h1.1M474.2 102.6h1.1M468.5 106.4h1.1M472.1 98.3h1.1M470.3 104.5h1.1M475.5 103.9h1.1M472.6 100.7h1.1M468.9 108.6h1.1M470.1 119.0h1.1M473.8 115.9h1.1M472.8 121.1h1.1M472.5 117.5h1.1M470.9 112.8h1.1M472.9 107.0h1.1M473.1 116.5h1.1M470.2 126.0h1.1M467.9 115.2h1.1M470.1 108.4h1.1M472.5 119.9h1.1M466.2 111.2h1.1M470.5 108.4h1.1M468.8 121.4h1.1M468.4 117.8h1.1M474.4 110.7h1.1M470.6 112.0h1.1M469.6 111.5h1.1M469.5 120.5h1.1M467.5 119.3h1.1M474.3 112.8h1.1M476.5 117.3h1.1M477.4 111.6h1.1M469.9 121.9h1.1M471.9 118.4h1.1M472.5 122.9h1.1M473.5 121.1h1.1M470.2 111.8h1.1M472.1 110.8h1.1M471.8 122.0h1.1M473.9 109.2h1.1M477.9 115.8h1.1M478.8 103.5h1.1M472.6 106.1h1.1M469.2 116.2h1.1M474.8 107.9h1.1M471.6 106.4h1.1M470.1 113.5h1.1M471.0 107.9h1.1M471.5 107.9h1.1M471.6 112.3h1.1M471.7 107.2h1.1M469.0 108.4h1.1M471.1 117.7h1.1M472.8 114.2h1.1M474.1 107.3h1.1M470.4 121.9h1.1M473.0 104.2h1.1M474.6 118.3h1.1M478.0 116.1h1.1M469.7 114.4h1.1M472.3 113.4h1.1M470.0 120.7h1.1M471.3 116.6h1.1M472.0 112.9h1.1M475.1 111.9h1.1M468.9 109.7h1.1M467.8 120.2h1.1M473.0 108.3h1.1M469.9 106.6h1.1M478.0 114.9h1.1M472.1 102.9h1.1M472.4 115.2h1.1M469.1 120.5h1.1M466.4 120.3h1.1M470.8 117.0h1.1M472.1 115.5h1.1M472.0 118.8h1.1M473.3 113.5h1.1M470.1 141.5h1.1M468.9 130.0h1.1M474.1 135.2h1.1M471.5 133.0h1.1M473.4 132.3h1.1M471.1 149.9h1.1M471.8 130.8h1.1M469.4 134.4h1.1M476.9 138.0h1.1M475.1 141.2h1.1M465.8 135.8h1.1M471.7 134.6h1.1M474.2 141.6h1.1M473.1 128.2h1.1M470.7 128.7h1.1M469.6 129.9h1.1M466.2 133.5h1.1M473.1 130.7h1.1M471.4 133.3h1.1M474.0 133.5h1.1M471.5 135.3h1.1M467.1 138.1h1.1M467.9 131.4h1.1M471.0 136.6h1.1M466.3 127.2h1.1M471.3 145.4h1.1M476.6 137.0h1.1M466.2 132.8h1.1M470.8 131.5h1.1M473.2 137.2h1.1M471.4 136.1h1.1M473.1 139.9h1.1M467.8 134.2h1.1M468.2 133.8h1.1M468.3 137.6h1.1M465.8 132.2h1.1M470.0 134.0h1.1M475.0 138.8h1.1M468.5 132.7h1.1M468.4 141.0h1.1M469.3 134.3h1.1M475.8 135.2h1.1M468.5 134.8h1.1M475.2 150.5h1.1M469.3 146.3h1.1M469.9 135.6h1.1M473.3 133.8h1.1M472.7 143.3h1.1M472.9 135.1h1.1M478.1 131.8h1.1M472.9 132.5h1.1M473.9 141.6h1.1M470.1 143.5h1.1M472.4 131.8h1.1M471.5 134.8h1.1M472.9 130.2h1.1M474.1 132.4h1.1M467.5 142.1h1.1M474.5 135.3h1.1M470.1 137.7h1.1M468.0 136.0h1.1M470.2 131.6h1.1M469.8 129.0h1.1M469.9 143.2h1.1M476.7 139.5h1.1M473.7 129.8h1.1M468.6 137.2h1.1M471.6 137.3h1.1M472.7 135.9h1.1M468.0 135.0h1.1M475.2 138.8h1.1M468.8 136.9h1.1M475.4 137.8h1.1M470.4 137.8h1.1M469.7 131.4h1.1M474.3 148.9h1.1M467.9 134.0h1.1M469.7 128.4h1.1M469.2 140.3h1.1M470.9 135.9h1.1M475.7 135.3h1.1M470.4 132.8h1.1M472.7 127.1h1.1" stroke="#000" stroke-width="1.1" fill="none" opacity="1.0"/>
<text transform="translate(45.80 232.80) scale(1.000 1.000)" font-family='"Liberation Sans", sans-serif' font-size="7.8" font-weight="normal" text-anchor="start" fill="#000" stroke="#000" stroke-width="0.25">Quad</text>
<text transform="translate(74.40 232.80) scale(1.000 1.000)" font-family='"Liberation Sans", sans-serif' font-size="7.8" font-weight="normal" text-anchor="start" fill="#000" stroke="#000" stroke-width="0.25">Events</text>
<text transform="translate(110.60 232.80) scale(1.000 1.000)" font-family='"Liberation Sans", sans-serif' font-size="7.8" font-weight="normal" text-anchor="start" fill="#000" stroke="#000" stroke-width="0.25">%</text>
<text transform="translate(137.20 232.80) scale(1.000 1.000)" font-family='"Liberation Sans", sans-serif' font-size="7.8" font-weight="normal" text-anchor="end" fill="#000" stroke="#000" stroke-width="0.25">total</text>
<rect x="41.0" y="234.9" width="100.6" height="1.6" fill="#000"/>
<text transform="translate(60.50 245.60) scale(1.000 1.000)" font-family='"Liberation Sans", sans-serif' font-size="7.8" font-weight="normal" text-anchor="middle" fill="#000" stroke="#000" stroke-width="0.25">UL</text>
<text transform="translate(103.80 245.60) scale(1.000 1.000)" font-family='"Liberation Sans", sans-serif' font-size="7.8" font-weight="normal" text-anchor="end" fill="#000" stroke="#000" stroke-width="0.25">93</text>
<text transform="translate(136.60 245.60) scale(1.000 1.000)" font-family='"Liberation Sans", sans-serif' font-size="7.8" font-weight="normal" text-anchor="end" fill="#000" stroke="#000" stroke-width="0.25">0.93</text>
<text transform="translate(60.50 257.80) scale(1.000 1.000)" font-family='"Liberation Sans", sans-serif' font-size="7.8" font-weight="normal" text-anchor="middle" fill="#000" stroke="#000" stroke-width="0.25">UR</text>
<text transform="translate(103.80 257.80) scale(1.000 1.000)" font-family='"Liberation Sans", sans-serif' font-size="7.8" font-weight="normal" text-anchor="end" fill="#000" stroke="#000" stroke-width="0.25">45</text>
<text transform="translate(136.60 257.80) scale(1.000 1.000)" font-family='"Liberation Sans", sans-serif' font-size="7.8" font-weight="normal" text-anchor="end" fill="#000" stroke="#000" stroke-width="0.25">0.45</text>
<text transform="translate(60.50 270.00) scale(1.000 1.000)" font-family='"Liberation Sans", sans-serif' font-size="7.8" font-weight="normal" text-anchor="middle" fill="#000" stroke="#000" stroke-width="0.25">LL</text>
<text transform="translate(103.80 270.00) scale(1.000 1.000)" font-family='"Liberation Sans", sans-serif' font-size="7.8" font-weight="normal" text-anchor="end" fill="#000" stroke="#000" stroke-width="0.25">9840</text>
<text transform="translate(136.60 270.00) scale(1.000 1.000)" font-family='"Liberation Sans", sans-serif' font-size="7.8" font-weight="normal" text-anchor="end" fill="#000" stroke="#000" stroke-width="0.25">98.40</text>
<text transform="translate(60.50 282.20) scale(1.000 1.000)" font-family='"Liberation Sans", sans-serif' font-size="7.8" font-weight="normal" text-anchor="middle" fill="#000" stroke="#000" stroke-width="0.25">LR</text>
<text transform="translate(103.80 282.20) scale(1.000 1.000)" font-family='"Liberation Sans", sans-serif' font-size="7.8" font-weight="normal" text-anchor="end" fill="#000" stroke="#000" stroke-width="0.25">22</text>
<text transform="translate(136.60 282.20) scale(1.000 1.000)" font-family='"Liberation Sans", sans-serif' font-size="7.8" font-weight="normal" text-anchor="end" fill="#000" stroke="#000" stroke-width="0.25">0.22</text>
<text transform="translate(171.30 232.90) scale(1.000 1.000)" font-family='"Liberation Sans", sans-serif' font-size="7.8" font-weight="normal" text-anchor="start" fill="#000" stroke="#000" stroke-width="0.25">Quad</text>
<text transform="translate(199.90 232.90) scale(1.000 1.000)" font-family='"Liberation Sans", sans-serif' font-size="7.8" font-weight="normal" text-anchor="start" fill="#000" stroke="#000" stroke-width="0.25">Events</text>
<text transform="translate(236.10 232.90) scale(1.000 1.000)" font-family='"Liberation Sans", sans-serif' font-size="7.8" font-weight="normal" text-anchor="start" fill="#000" stroke="#000" stroke-width="0.25">%</text>
<text transform="translate(262.70 232.90) scale(1.000 1.000)" font-family='"Liberation Sans", sans-serif' font-size="7.8" font-weight="normal" text-anchor="end" fill="#000" stroke="#000" stroke-width="0.25">total</text>
<rect x="166.5" y="235.2" width="100.6" height="1.6" fill="#000"/>
<text transform="translate(186.00 245.70) scale(1.000 1.000)" font-family='"Liberation Sans", sans-serif' font-size="7.8" font-weight="normal" text-anchor="middle" fill="#000" stroke="#000" stroke-width="0.25">UL</text>
<text transform="translate(229.30 245.70) scale(1.000 1.000)" font-family='"Liberation Sans", sans-serif' font-size="7.8" font-weight="normal" text-anchor="end" fill="#000" stroke="#000" stroke-width="0.25">97</text>
<text transform="translate(262.10 245.70) scale(1.000 1.000)" font-family='"Liberation Sans", sans-serif' font-size="7.8" font-weight="normal" text-anchor="end" fill="#000" stroke="#000" stroke-width="0.25">0.97</text>
<text transform="translate(186.00 257.90) scale(1.000 1.000)" font-family='"Liberation Sans", sans-serif' font-size="7.8" font-weight="normal" text-anchor="middle" fill="#000" stroke="#000" stroke-width="0.25">UR</text>
<text transform="translate(229.30 257.90) scale(1.000 1.000)" font-family='"Liberation Sans", sans-serif' font-size="7.8" font-weight="normal" text-anchor="end" fill="#000" stroke="#000" stroke-width="0.25">53</text>
<text transform="translate(262.10 257.90) scale(1.000 1.000)" font-family='"Liberation Sans", sans-serif' font-size="7.8" font-weight="normal" text-anchor="end" fill="#000" stroke="#000" stroke-width="0.25">0.53</text>
<text transform="translate(186.00 270.10) scale(1.000 1.000)" font-family='"Liberation Sans", sans-serif' font-size="7.8" font-weight="normal" text-anchor="middle" fill="#000" stroke="#000" stroke-width="0.25">LL</text>
<text transform="translate(229.30 270.10) scale(1.000 1.000)" font-family='"Liberation Sans", sans-serif' font-size="7.8" font-weight="normal" text-anchor="end" fill="#000" stroke="#000" stroke-width="0.25">9820</text>
<text transform="translate(262.10 270.10) scale(1.000 1.000)" font-family='"Liberation Sans", sans-serif' font-size="7.8" font-weight="normal" text-anchor="end" fill="#000" stroke="#000" stroke-width="0.25">98.20</text>
<text transform="translate(186.00 282.30) scale(1.000 1.000)" font-family='"Liberation Sans", sans-serif' font-size="7.8" font-weight="normal" text-anchor="middle" fill="#000" stroke="#000" stroke-width="0.25">LR</text>
<text transform="translate(229.30 282.30) scale(1.000 1.000)" font-family='"Liberation Sans", sans-serif' font-size="7.8" font-weight="normal" text-anchor="end" fill="#000" stroke="#000" stroke-width="0.25">30</text>
<text transform="translate(262.10 282.30) scale(1.000 1.000)" font-family='"Liberation Sans", sans-serif' font-size="7.8" font-weight="normal" text-anchor="end" fill="#000" stroke="#000" stroke-width="0.25">0.30</text>
<text transform="translate(297.50 233.00) scale(1.000 1.000)" font-family='"Liberation Sans", sans-serif' font-size="7.8" font-weight="normal" text-anchor="start" fill="#000" stroke="#000" stroke-width="0.25">Quad</text>
<text transform="translate(326.10 233.00) scale(1.000 1.000)" font-family='"Liberation Sans", sans-serif' font-size="7.8" font-weight="normal" text-anchor="start" fill="#000" stroke="#000" stroke-width="0.25">Events</text>
<text transform="translate(362.30 233.00) scale(1.000 1.000)" font-family='"Liberation Sans", sans-serif' font-size="7.8" font-weight="normal" text-anchor="start" fill="#000" stroke="#000" stroke-width="0.25">%</text>
<text transform="translate(388.90 233.00) scale(1.000 1.000)" font-family='"Liberation Sans", sans-serif' font-size="7.8" font-weight="normal" text-anchor="end" fill="#000" stroke="#000" stroke-width="0.25">total</text>
<rect x="292.7" y="235.4" width="100.6" height="1.6" fill="#000"/>
<text transform="translate(312.20 245.80) scale(1.000 1.000)" font-family='"Liberation Sans", sans-serif' font-size="7.8" font-weight="normal" text-anchor="middle" fill="#000" stroke="#000" stroke-width="0.25">UL</text>
<text transform="translate(355.50 245.80) scale(1.000 1.000)" font-family='"Liberation Sans", sans-serif' font-size="7.8" font-weight="normal" text-anchor="end" fill="#000" stroke="#000" stroke-width="0.25">79</text>
<text transform="translate(388.30 245.80) scale(1.000 1.000)" font-family='"Liberation Sans", sans-serif' font-size="7.8" font-weight="normal" text-anchor="end" fill="#000" stroke="#000" stroke-width="0.25">0.79</text>
<text transform="translate(312.20 258.00) scale(1.000 1.000)" font-family='"Liberation Sans", sans-serif' font-size="7.8" font-weight="normal" text-anchor="middle" fill="#000" stroke="#000" stroke-width="0.25">UR</text>
<text transform="translate(355.50 258.00) scale(1.000 1.000)" font-family='"Liberation Sans", sans-serif' font-size="7.8" font-weight="normal" text-anchor="end" fill="#000" stroke="#000" stroke-width="0.25">234</text>
<text transform="translate(388.30 258.00) scale(1.000 1.000)" font-family='"Liberation Sans", sans-serif' font-size="7.8" font-weight="normal" text-anchor="end" fill="#000" stroke="#000" stroke-width="0.25">2.34</text>
<text transform="translate(312.20 270.20) scale(1.000 1.000)" font-family='"Liberation Sans", sans-serif' font-size="7.8" font-weight="normal" text-anchor="middle" fill="#000" stroke="#000" stroke-width="0.25">LL</text>
<text transform="translate(355.50 270.20) scale(1.000 1.000)" font-family='"Liberation Sans", sans-serif' font-size="7.8" font-weight="normal" text-anchor="end" fill="#000" stroke="#000" stroke-width="0.25">9234</text>
<text transform="translate(388.30 270.20) scale(1.000 1.000)" font-family='"Liberation Sans", sans-serif' font-size="7.8" font-weight="normal" text-anchor="end" fill="#000" stroke="#000" stroke-width="0.25">92.34</text>
<text transform="translate(312.20 282.40) scale(1.000 1.000)" font-family='"Liberation Sans", sans-serif' font-size="7.8" font-weight="normal" text-anchor="middle" fill="#000" stroke="#000" stroke-width="0.25">LR</text>
<text transform="translate(355.50 282.40) scale(1.000 1.000)" font-family='"Liberation Sans", sans-serif' font-size="7.8" font-weight="normal" text-anchor="end" fill="#000" stroke="#000" stroke-width="0.25">453</text>
<text transform="translate(388.30 282.40) scale(1.000 1.000)" font-family='"Liberation Sans", sans-serif' font-size="7.8" font-weight="normal" text-anchor="end" fill="#000" stroke="#000" stroke-width="0.25">4.53</text>
<text transform="translate(423.10 233.30) scale(1.000 1.000)" font-family='"Liberation Sans", sans-serif' font-size="7.8" font-weight="normal" text-anchor="start" fill="#000" stroke="#000" stroke-width="0.25">Quad</text>
<text transform="translate(451.70 233.30) scale(1.000 1.000)" font-family='"Liberation Sans", sans-serif' font-size="7.8" font-weight="normal" text-anchor="start" fill="#000" stroke="#000" stroke-width="0.25">Events</text>
<text transform="translate(487.90 233.30) scale(1.000 1.000)" font-family='"Liberation Sans", sans-serif' font-size="7.8" font-weight="normal" text-anchor="start" fill="#000" stroke="#000" stroke-width="0.25">%</text>
<text transform="translate(514.50 233.30) scale(1.000 1.000)" font-family='"Liberation Sans", sans-serif' font-size="7.8" font-weight="normal" text-anchor="end" fill="#000" stroke="#000" stroke-width="0.25">total</text>
<rect x="418.3" y="235.5" width="100.6" height="1.6" fill="#000"/>
<text transform="translate(437.80 246.10) scale(1.000 1.000)" font-family='"Liberation Sans", sans-serif' font-size="7.8" font-weight="normal" text-anchor="middle" fill="#000" stroke="#000" stroke-width="0.25">UL</text>
<text transform="translate(481.10 246.10) scale(1.000 1.000)" font-family='"Liberation Sans", sans-serif' font-size="7.8" font-weight="normal" text-anchor="end" fill="#000" stroke="#000" stroke-width="0.25">232</text>
<text transform="translate(513.90 246.10) scale(1.000 1.000)" font-family='"Liberation Sans", sans-serif' font-size="7.8" font-weight="normal" text-anchor="end" fill="#000" stroke="#000" stroke-width="0.25">2.32</text>
<text transform="translate(437.80 258.30) scale(1.000 1.000)" font-family='"Liberation Sans", sans-serif' font-size="7.8" font-weight="normal" text-anchor="middle" fill="#000" stroke="#000" stroke-width="0.25">UR</text>
<text transform="translate(481.10 258.30) scale(1.000 1.000)" font-family='"Liberation Sans", sans-serif' font-size="7.8" font-weight="normal" text-anchor="end" fill="#000" stroke="#000" stroke-width="0.25">517</text>
<text transform="translate(513.90 258.30) scale(1.000 1.000)" font-family='"Liberation Sans", sans-serif' font-size="7.8" font-weight="normal" text-anchor="end" fill="#000" stroke="#000" stroke-width="0.25">5.17</text>
<text transform="translate(437.80 270.50) scale(1.000 1.000)" font-family='"Liberation Sans", sans-serif' font-size="7.8" font-weight="normal" text-anchor="middle" fill="#000" stroke="#000" stroke-width="0.25">LL</text>
<text transform="translate(481.10 270.50) scale(1.000 1.000)" font-family='"Liberation Sans", sans-serif' font-size="7.8" font-weight="normal" text-anchor="end" fill="#000" stroke="#000" stroke-width="0.25">8758</text>
<text transform="translate(513.90 270.50) scale(1.000 1.000)" font-family='"Liberation Sans", sans-serif' font-size="7.8" font-weight="normal" text-anchor="end" fill="#000" stroke="#000" stroke-width="0.25">87.58</text>
<text transform="translate(437.80 282.70) scale(1.000 1.000)" font-family='"Liberation Sans", sans-serif' font-size="7.8" font-weight="normal" text-anchor="middle" fill="#000" stroke="#000" stroke-width="0.25">LR</text>
<text transform="translate(481.10 282.70) scale(1.000 1.000)" font-family='"Liberation Sans", sans-serif' font-size="7.8" font-weight="normal" text-anchor="end" fill="#000" stroke="#000" stroke-width="0.25">493</text>
<text transform="translate(513.90 282.70) scale(1.000 1.000)" font-family='"Liberation Sans", sans-serif' font-size="7.8" font-weight="normal" text-anchor="end" fill="#000" stroke="#000" stroke-width="0.25">4.93</text></svg>
</body></html>
